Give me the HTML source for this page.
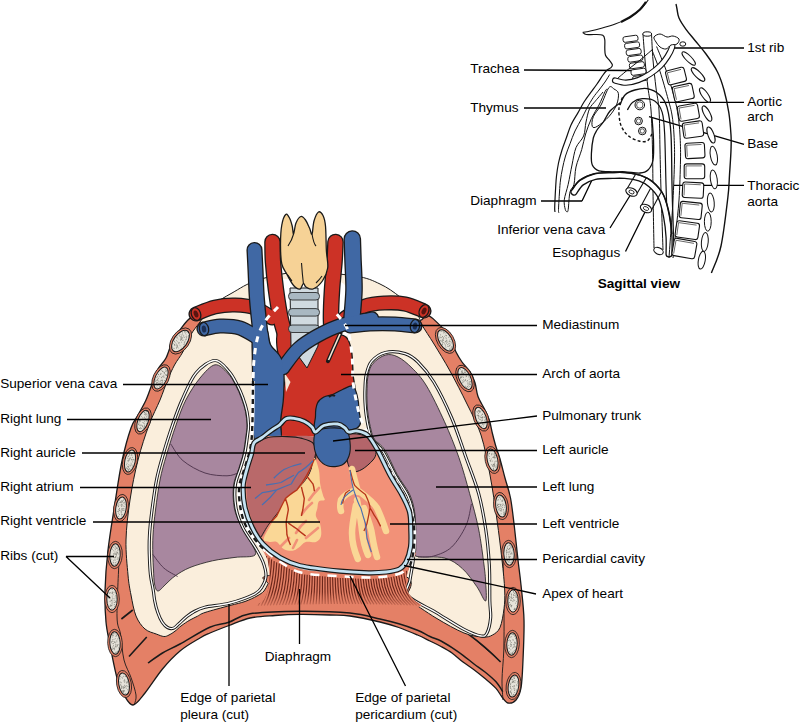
<!DOCTYPE html>
<html><head><meta charset="utf-8"><style>
html,body{margin:0;padding:0;background:#fff;width:800px;height:725px;overflow:hidden}
svg{display:block}
</style></head><body>
<svg width="800" height="725" viewBox="0 0 800 725" stroke-linejoin="round">
<path d="M204.0,318.0 C198.3,315.7 196.8,315.5 194.0,316.0 C191.2,316.5 189.3,318.7 187.0,321.0 C184.7,323.3 182.4,326.7 180.0,330.0 C177.6,333.3 174.8,336.3 172.5,341.0 C170.2,345.7 168.4,353.3 166.0,358.0 C163.6,362.7 160.3,364.8 158.0,369.0 C155.7,373.2 154.4,377.8 152.4,383.0 C150.4,388.2 148.4,394.7 146.0,400.0 C143.6,405.3 140.5,410.3 138.0,415.0 C135.5,419.7 133.7,420.3 131.0,428.0 C128.3,435.7 124.7,448.5 122.0,461.0 C119.3,473.5 117.3,488.2 115.0,503.0 C112.7,517.8 109.7,535.3 108.0,550.0 C106.3,564.7 105.3,579.0 105.0,591.0 C104.7,603.0 105.2,613.0 106.0,622.0 C106.8,631.0 108.2,635.7 110.0,645.0 C111.8,654.3 114.7,669.7 117.0,678.0 C119.3,686.3 121.3,690.5 124.0,695.0 C126.7,699.5 129.5,705.3 133.0,705.0 C136.5,704.7 140.1,699.0 145.0,693.0 C149.9,687.0 156.7,676.0 162.5,669.0 C168.3,662.0 173.8,656.2 180.0,651.0 C186.2,645.8 195.0,641.0 200.0,638.0 C205.0,635.0 205.2,635.1 210.0,633.0 C214.8,630.9 222.3,628.0 229.0,625.5 C235.7,623.0 242.3,619.7 250.0,618.0 C257.7,616.3 266.7,616.1 275.0,615.5 C283.3,614.9 290.8,614.5 300.0,614.4 C309.2,614.3 321.7,614.7 330.0,615.0 C338.3,615.3 341.7,614.8 350.0,616.0 C358.3,617.2 371.9,620.1 380.0,622.0 C388.1,623.9 392.5,625.3 398.8,627.5 C405.0,629.7 412.3,632.8 417.5,635.0 C422.7,637.2 426.1,639.1 430.0,641.0 C433.9,642.9 437.3,644.5 441.0,646.5 C444.7,648.5 448.3,650.4 452.0,653.0 C455.7,655.6 459.3,659.2 463.0,662.0 C466.7,664.8 470.3,667.0 474.0,669.7 C477.7,672.5 481.3,675.4 485.0,678.5 C488.7,681.6 493.2,685.3 496.0,688.4 C498.8,691.5 500.0,694.6 502.0,697.0 C504.0,699.4 505.7,702.5 508.0,703.0 C510.3,703.5 513.8,702.5 516.0,700.0 C518.2,697.5 519.8,694.7 521.0,688.0 C522.2,681.3 522.5,671.3 523.0,660.0 C523.5,648.7 524.3,632.5 524.0,620.0 C523.7,607.5 522.0,595.0 521.0,585.0 C520.0,575.0 519.1,569.7 518.0,560.0 C516.9,550.3 515.6,537.3 514.4,527.0 C513.1,516.7 512.1,506.2 510.5,498.0 C508.9,489.8 506.8,484.7 505.0,478.0 C503.2,471.3 501.3,463.4 499.7,458.0 C498.1,452.6 496.8,449.7 495.6,445.5 C494.4,441.3 493.3,437.1 492.3,433.0 C491.3,428.9 490.7,424.5 489.5,420.7 C488.3,416.9 486.9,414.0 485.0,410.0 C483.1,406.0 479.7,401.1 478.0,396.5 C476.3,391.9 476.3,386.8 475.0,382.7 C473.7,378.6 472.2,375.1 470.0,371.7 C467.8,368.2 464.3,365.3 462.0,362.0 C459.7,358.7 458.2,356.3 456.0,352.0 C453.8,347.7 452.0,340.8 449.0,336.0 C446.0,331.2 441.7,326.9 438.0,323.4 C434.3,319.9 430.3,315.4 427.0,315.2 C423.7,315.0 425.8,318.7 418.0,322.0 C410.2,325.3 399.7,332.0 380.0,335.0 C360.3,338.0 325.3,340.8 300.0,340.0 C274.7,339.2 244.0,333.7 228.0,330.0 C212.0,326.3 209.7,320.3 204.0,318.0Z" fill="#E48066" stroke="#1a1a1a" stroke-width="1.3"/><path d="M148.0,663.0 C150.4,661.3 157.2,656.2 162.5,653.0 C167.8,649.8 172.1,648.3 180.0,644.0 C187.9,639.7 201.7,630.9 209.8,627.3 C217.9,623.7 222.1,624.6 228.8,622.3 C235.5,620.0 238.1,615.6 250.0,613.8 C261.9,611.9 283.3,611.4 300.0,611.2 C316.7,611.1 336.7,611.7 350.0,613.0 C363.3,614.3 371.9,617.2 380.0,619.0 C388.1,620.8 392.5,621.9 398.8,623.8 C405.0,625.6 412.3,628.2 417.5,630.3 C422.7,632.4 426.1,634.7 430.0,636.5 C433.9,638.3 437.3,639.1 441.0,641.0 C444.7,642.9 448.3,645.2 452.0,647.6 C455.7,650.0 459.3,652.6 463.0,655.3 C466.7,658.0 470.3,661.2 474.0,664.0 C477.7,666.8 481.3,669.0 485.0,672.0 C488.7,675.0 493.0,678.5 496.0,681.8 C499.0,685.1 501.7,690.1 502.8,691.7" fill="none" stroke="#1a1a1a" stroke-width="1.5"/><path d="M119.0,560.0 C118.7,569.3 116.8,603.7 117.0,616.0 C117.2,628.3 119.3,626.7 120.5,634.0 C121.7,641.3 122.2,652.8 124.0,660.0 C125.8,667.2 129.0,671.7 131.0,677.5 C133.0,683.3 135.4,690.6 136.0,695.0 C136.6,699.4 134.8,702.5 134.5,704.0" fill="none" stroke="#1a1a1a" stroke-width="0.9"/><path d="M503.0,560.0 C503.2,568.3 503.9,595.0 504.0,610.0 C504.1,625.0 504.1,638.3 503.8,650.0 C503.4,661.7 502.1,671.7 502.0,680.0 C501.9,688.3 502.8,696.7 503.0,700.0" fill="none" stroke="#1a1a1a" stroke-width="0.9"/><path d="M121.4,619 L132.75,610 M129,656.5 L146.75,637 M468.6,634.3 Q485,646 500.6,662" stroke="#1a1a1a" stroke-width="1.6"/><path d="M200.0,322.0 C196.5,326.8 193.9,329.5 191.0,334.5 C188.1,339.5 185.6,346.9 182.8,352.0 C180.1,357.1 177.0,360.3 174.5,365.0 C172.0,369.7 170.0,374.2 167.6,380.0 C165.2,385.8 163.1,392.5 160.0,400.0 C156.9,407.5 152.7,415.0 149.0,425.0 C145.3,435.0 141.2,447.5 138.0,460.0 C134.8,472.5 132.0,486.7 130.0,500.0 C128.0,513.3 126.3,527.5 126.0,540.0 C125.7,552.5 127.2,565.8 128.0,575.0 C128.8,584.2 129.7,588.2 131.0,595.0 C132.3,601.8 133.7,610.3 136.0,616.0 C138.3,621.7 141.6,626.0 145.0,629.0 C148.4,632.0 153.1,632.8 156.2,634.0 C159.4,635.2 161.6,636.3 163.8,636.5 C165.9,636.7 167.1,635.9 169.0,635.0 C170.9,634.1 173.0,632.8 175.0,631.2 C177.0,629.8 178.5,627.9 181.0,626.0 C183.5,624.1 187.2,621.6 190.0,620.0 C192.8,618.4 195.0,617.5 197.5,616.2 C200.0,615.0 199.6,614.3 205.0,612.5 C210.4,610.7 223.3,607.3 230.0,605.5 C236.7,603.7 240.5,603.1 245.0,601.5 C249.5,599.9 253.8,597.8 257.0,596.0 C260.2,594.2 262.2,593.0 264.0,591.0 C265.8,589.0 266.3,586.7 268.0,584.0 C269.7,581.3 252.0,576.5 274.0,575.0 C296.0,573.5 378.0,571.2 400.0,575.0 C422.0,578.8 404.7,593.9 406.0,598.0 C407.3,602.1 403.0,596.1 408.0,599.4 C413.0,602.7 426.7,612.4 436.0,618.0 C445.3,623.6 456.2,629.8 464.0,633.0 C471.8,636.2 478.2,636.7 483.0,637.0 C487.8,637.3 489.7,636.6 492.5,635.0 C495.3,633.4 498.1,631.9 500.0,627.5 C501.9,623.1 503.2,615.0 504.0,608.8 C504.8,602.5 505.0,598.1 504.7,590.0 C504.4,581.9 503.3,571.7 502.0,560.0 C500.7,548.3 499.0,534.2 497.0,520.0 C495.0,505.8 492.7,489.2 490.0,475.0 C487.3,460.8 484.8,446.8 481.0,435.0 C477.2,423.2 472.2,414.7 467.0,404.0 C461.8,393.3 455.5,381.0 450.0,371.0 C444.5,361.0 438.7,351.7 434.0,344.0 C429.3,336.3 424.8,330.0 422.0,325.0 C419.2,320.0 420.7,318.7 417.0,314.0 C413.3,309.3 406.2,302.0 400.0,297.0 C393.8,292.0 387.5,287.5 380.0,284.0 C372.5,280.5 368.3,278.0 355.0,276.0 C341.7,274.0 316.2,271.3 300.0,272.0 C283.8,272.7 269.3,276.5 258.0,280.0 C246.7,283.5 239.7,288.7 232.0,293.0 C224.3,297.3 217.3,301.2 212.0,306.0 C206.7,310.8 203.5,317.2 200.0,322.0Z" fill="#FAEEDC" stroke="#1a1a1a" stroke-width="1"/><path d="M215.0,364.8 C219.6,364.0 224.1,369.6 227.6,373.0 C231.1,376.4 233.5,381.3 235.8,385.5 C238.1,389.7 239.7,393.6 241.3,398.0 C242.9,402.4 244.6,407.2 245.5,411.7 C246.4,416.2 246.9,421.0 247.0,425.0 C247.1,429.0 246.6,430.7 246.0,435.5 C245.4,440.3 244.4,448.2 243.2,453.7 C242.0,459.2 240.4,463.2 238.8,468.6 C237.2,474.0 234.2,479.4 233.5,486.0 C232.8,492.6 233.1,501.3 234.3,508.0 C235.6,514.7 238.4,520.5 241.0,526.0 C243.6,531.5 247.7,536.2 250.0,541.0 C252.3,545.8 257.5,552.3 255.0,555.0 C252.5,557.7 242.1,556.4 235.0,557.4 C227.9,558.4 220.0,559.1 212.5,560.8 C205.0,562.5 196.2,565.0 190.0,567.5 C183.8,570.0 179.0,573.2 175.0,576.0 C171.0,578.8 168.8,581.5 166.0,584.0 C163.2,586.5 159.9,591.0 158.0,591.0 C156.1,591.0 155.2,587.5 154.5,584.0 C153.8,580.5 153.8,575.0 153.5,570.0 C153.2,565.0 152.9,559.8 152.8,554.0 C152.7,548.2 152.6,542.3 153.0,535.0 C153.4,527.7 154.3,519.2 155.5,510.0 C156.7,500.8 158.2,489.2 160.0,480.0 C161.8,470.8 163.8,464.2 166.5,455.0 C169.2,445.8 172.8,434.2 176.0,425.0 C179.2,415.8 181.8,407.8 185.8,400.0 C189.8,392.2 195.1,383.9 200.0,378.0 C204.9,372.1 210.4,365.6 215.0,364.8Z" fill="#A8879F" stroke="#1a1a1a" stroke-width="0.8"/><path d="M170.7,444.0 C172.8,446.8 177.3,455.9 183.0,460.7 C188.7,465.5 197.7,470.5 205.0,473.0 C212.3,475.5 221.5,475.8 227.0,475.8 C232.5,475.8 236.2,473.5 238.0,473.0" fill="none" stroke="#4a3048" stroke-width="0.9"/><path d="M152.8,554.4 C154.6,556.7 159.7,564.3 163.8,568.0 C167.9,571.7 175.3,575.1 177.6,576.5" fill="none" stroke="#4a3048" stroke-width="0.9"/><path d="M385.5,355.0 C381.3,356.1 375.9,360.1 373.0,363.4 C370.1,366.6 369.3,370.4 368.3,374.5 C367.3,378.6 367.2,383.7 367.0,388.3 C366.8,392.9 366.8,397.4 367.0,402.0 C367.2,406.6 367.6,411.4 368.3,416.0 C369.0,420.6 370.0,425.8 371.0,429.7 C372.0,433.6 372.2,435.9 374.5,439.3 C376.8,442.7 381.0,444.1 384.8,450.0 C388.6,455.9 393.1,467.1 397.2,474.5 C401.3,481.9 406.7,488.2 409.6,494.4 C412.5,500.6 413.6,505.9 414.6,511.8 C415.6,517.7 415.6,523.8 415.8,530.0 C416.0,536.2 415.6,544.6 415.8,549.0 C416.0,553.4 412.2,555.0 417.0,556.5 C421.8,558.0 436.9,556.0 444.5,558.0 C452.1,560.0 457.0,563.8 462.4,568.6 C467.8,573.4 472.9,581.2 476.8,586.6 C480.7,592.0 484.2,602.1 485.7,601.0 C487.1,599.9 485.8,586.0 485.5,580.0 C485.2,574.0 485.1,573.5 484.0,565.0 C482.9,556.5 481.0,540.9 478.6,529.0 C476.2,517.1 472.9,505.3 469.6,493.4 C466.3,481.5 463.1,469.4 458.9,457.5 C454.7,445.6 449.9,433.6 444.5,421.7 C439.1,409.8 432.0,394.9 426.6,386.0 C421.2,377.1 416.8,372.8 412.0,368.0 C407.2,363.2 402.4,359.2 398.0,357.0 C393.6,354.8 389.7,353.9 385.5,355.0Z" fill="#A8879F" stroke="#1a1a1a" stroke-width="0.8"/><path d="M471.4,504.0 C470.5,507.6 469.3,518.4 466.0,525.6 C462.7,532.8 457.1,541.9 451.7,547.0 C446.3,552.1 439.4,554.3 433.8,556.0 C428.2,557.7 420.6,556.8 418.0,557.0" fill="none" stroke="#4a3048" stroke-width="0.9"/><path d="M215.0,360.5 C209.5,360.8 201.5,366.4 196.0,373.0 C190.5,379.6 185.9,391.3 182.0,400.0 C178.1,408.7 175.7,415.8 172.5,425.0 C169.3,434.2 165.7,445.8 163.0,455.0 C160.3,464.2 158.3,470.8 156.5,480.0 C154.7,489.2 153.2,500.8 152.0,510.0 C150.8,519.2 149.9,527.7 149.5,535.0 C149.1,542.3 149.1,547.3 149.3,554.0 C149.5,560.7 149.8,569.0 150.5,575.0 C151.2,581.0 152.5,585.6 153.2,590.0 C154.0,594.4 154.0,597.5 154.8,601.2 C155.5,605.0 156.5,609.0 157.8,612.5 C159.0,616.0 160.6,619.8 162.2,622.2 C163.9,624.8 165.6,626.5 167.5,627.5 C169.4,628.5 171.6,628.9 173.5,628.2 C175.4,627.6 176.6,625.6 178.8,623.8 C180.9,621.9 183.8,619.0 186.2,617.0 C188.8,615.0 190.6,613.4 193.8,611.8 C196.9,610.1 199.0,608.7 205.0,607.2 C211.0,605.8 221.7,605.2 230.0,603.0 C238.3,600.8 249.6,596.6 255.0,593.8 C260.4,590.9 260.7,589.0 262.5,586.0 C264.3,583.0 265.9,580.0 266.0,576.0 C266.1,572.0 264.8,566.8 263.0,562.0 C261.2,557.2 258.3,552.7 255.0,547.0 C251.7,541.3 246.2,534.5 243.0,528.0 C239.8,521.5 237.3,515.0 236.0,508.0 C234.7,501.0 234.5,492.6 235.2,486.0 C235.9,479.4 238.7,474.0 240.3,468.6 C241.9,463.2 243.5,459.2 244.7,453.7 C245.9,448.2 246.9,440.3 247.5,435.5 C248.1,430.7 248.6,429.0 248.5,425.0 C248.4,421.0 247.9,416.3 247.0,411.7 C246.1,407.1 244.4,401.9 242.8,397.5 C241.2,393.1 239.6,389.3 237.3,385.0 C235.0,380.7 232.7,375.6 229.0,371.5 C225.3,367.4 220.5,360.2 215.0,360.5Z" fill="none" stroke="#1a1a1a" stroke-width="3.2"/><path d="M215.0,360.5 C209.5,360.8 201.5,366.4 196.0,373.0 C190.5,379.6 185.9,391.3 182.0,400.0 C178.1,408.7 175.7,415.8 172.5,425.0 C169.3,434.2 165.7,445.8 163.0,455.0 C160.3,464.2 158.3,470.8 156.5,480.0 C154.7,489.2 153.2,500.8 152.0,510.0 C150.8,519.2 149.9,527.7 149.5,535.0 C149.1,542.3 149.1,547.3 149.3,554.0 C149.5,560.7 149.8,569.0 150.5,575.0 C151.2,581.0 152.5,585.6 153.2,590.0 C154.0,594.4 154.0,597.5 154.8,601.2 C155.5,605.0 156.5,609.0 157.8,612.5 C159.0,616.0 160.6,619.8 162.2,622.2 C163.9,624.8 165.6,626.5 167.5,627.5 C169.4,628.5 171.6,628.9 173.5,628.2 C175.4,627.6 176.6,625.6 178.8,623.8 C180.9,621.9 183.8,619.0 186.2,617.0 C188.8,615.0 190.6,613.4 193.8,611.8 C196.9,610.1 199.0,608.7 205.0,607.2 C211.0,605.8 221.7,605.2 230.0,603.0 C238.3,600.8 249.6,596.6 255.0,593.8 C260.4,590.9 260.7,589.0 262.5,586.0 C264.3,583.0 265.9,580.0 266.0,576.0 C266.1,572.0 264.8,566.8 263.0,562.0 C261.2,557.2 258.3,552.7 255.0,547.0 C251.7,541.3 246.2,534.5 243.0,528.0 C239.8,521.5 237.3,515.0 236.0,508.0 C234.7,501.0 234.5,492.6 235.2,486.0 C235.9,479.4 238.7,474.0 240.3,468.6 C241.9,463.2 243.5,459.2 244.7,453.7 C245.9,448.2 246.9,440.3 247.5,435.5 C248.1,430.7 248.6,429.0 248.5,425.0 C248.4,421.0 247.9,416.3 247.0,411.7 C246.1,407.1 244.4,401.9 242.8,397.5 C241.2,393.1 239.6,389.3 237.3,385.0 C235.0,380.7 232.7,375.6 229.0,371.5 C225.3,367.4 220.5,360.2 215.0,360.5Z" fill="none" stroke="#fff" stroke-width="1.3"/><path d="M385.5,352.5 C379.9,353.8 374.7,357.8 371.5,361.5 C368.3,365.2 367.4,370.0 366.3,374.5 C365.2,379.0 365.2,383.7 365.0,388.3 C364.8,392.9 364.8,397.4 365.0,402.0 C365.2,406.6 365.6,411.3 366.3,416.0 C367.0,420.7 368.0,426.0 369.0,430.0 C370.0,434.0 370.2,436.4 372.5,440.0 C374.8,443.6 379.2,445.6 383.0,451.5 C386.8,457.4 391.4,468.2 395.5,475.5 C399.6,482.8 404.9,489.4 407.8,495.5 C410.7,501.6 411.8,506.2 412.8,512.0 C413.8,517.8 413.8,523.8 414.0,530.0 C414.2,536.2 414.2,543.7 414.0,549.0 C413.8,554.3 413.7,556.8 413.0,562.0 C412.3,567.2 410.8,574.4 410.0,580.0 C409.2,585.6 403.7,590.2 408.0,595.6 C412.3,601.0 426.7,606.9 436.0,612.5 C445.3,618.1 456.5,625.5 464.0,629.4 C471.5,633.3 477.2,635.4 481.0,636.0 C484.8,636.6 485.4,636.0 487.0,633.0 C488.6,630.0 490.1,623.3 490.6,618.0 C491.1,612.7 490.0,609.8 489.8,601.0 C489.6,592.2 490.0,577.0 489.3,565.0 C488.6,553.0 487.5,540.9 485.7,529.0 C483.9,517.1 481.9,505.3 478.6,493.4 C475.3,481.5 470.5,470.1 466.0,457.5 C461.5,444.9 457.1,430.6 451.7,418.0 C446.3,405.4 439.4,391.3 433.8,382.0 C428.2,372.7 422.8,366.7 418.0,362.0 C413.2,357.3 410.4,355.2 405.0,353.6 C399.6,352.0 391.1,351.2 385.5,352.5Z" fill="none" stroke="#1a1a1a" stroke-width="3.2"/><path d="M385.5,352.5 C379.9,353.8 374.7,357.8 371.5,361.5 C368.3,365.2 367.4,370.0 366.3,374.5 C365.2,379.0 365.2,383.7 365.0,388.3 C364.8,392.9 364.8,397.4 365.0,402.0 C365.2,406.6 365.6,411.3 366.3,416.0 C367.0,420.7 368.0,426.0 369.0,430.0 C370.0,434.0 370.2,436.4 372.5,440.0 C374.8,443.6 379.2,445.6 383.0,451.5 C386.8,457.4 391.4,468.2 395.5,475.5 C399.6,482.8 404.9,489.4 407.8,495.5 C410.7,501.6 411.8,506.2 412.8,512.0 C413.8,517.8 413.8,523.8 414.0,530.0 C414.2,536.2 414.2,543.7 414.0,549.0 C413.8,554.3 413.7,556.8 413.0,562.0 C412.3,567.2 410.8,574.4 410.0,580.0 C409.2,585.6 403.7,590.2 408.0,595.6 C412.3,601.0 426.7,606.9 436.0,612.5 C445.3,618.1 456.5,625.5 464.0,629.4 C471.5,633.3 477.2,635.4 481.0,636.0 C484.8,636.6 485.4,636.0 487.0,633.0 C488.6,630.0 490.1,623.3 490.6,618.0 C491.1,612.7 490.0,609.8 489.8,601.0 C489.6,592.2 490.0,577.0 489.3,565.0 C488.6,553.0 487.5,540.9 485.7,529.0 C483.9,517.1 481.9,505.3 478.6,493.4 C475.3,481.5 470.5,470.1 466.0,457.5 C461.5,444.9 457.1,430.6 451.7,418.0 C446.3,405.4 439.4,391.3 433.8,382.0 C428.2,372.7 422.8,366.7 418.0,362.0 C413.2,357.3 410.4,355.2 405.0,353.6 C399.6,352.0 391.1,351.2 385.5,352.5Z" fill="none" stroke="#fff" stroke-width="1.3"/><clipPath id="stc"><path d="M262.0,548.0 C261.8,545.3 263.8,543.7 266.0,544.0 C268.2,544.3 269.3,547.0 275.0,550.0 C280.7,553.0 289.2,559.2 300.0,562.0 C310.8,564.8 323.3,566.5 340.0,567.0 C356.7,567.5 388.3,566.7 400.0,565.0 C411.7,563.3 407.3,559.0 410.0,557.0 C412.7,555.0 416.2,551.2 416.0,553.0 C415.8,554.8 410.7,563.2 409.0,568.0 C407.3,572.8 406.2,578.0 406.0,582.0 C405.8,586.0 406.7,589.0 408.0,592.0 C409.3,595.0 411.8,597.7 414.0,600.0 C416.2,602.3 423.3,604.8 421.0,606.0 C418.7,607.2 415.2,607.0 400.0,607.0 C384.8,607.0 348.3,606.2 330.0,606.0 C311.7,605.8 302.0,606.0 290.0,606.0 C278.0,606.0 262.3,607.0 258.0,606.0 C253.7,605.0 262.2,603.0 264.0,600.0 C265.8,597.0 267.6,592.2 268.5,588.0 C269.4,583.8 269.7,579.7 269.5,575.0 C269.3,570.3 268.8,564.5 267.5,560.0 C266.2,555.5 262.2,550.7 262.0,548.0Z"/></clipPath><path d="M262.0,548.0 C261.8,545.3 263.8,543.7 266.0,544.0 C268.2,544.3 269.3,547.0 275.0,550.0 C280.7,553.0 289.2,559.2 300.0,562.0 C310.8,564.8 323.3,566.5 340.0,567.0 C356.7,567.5 388.3,566.7 400.0,565.0 C411.7,563.3 407.3,559.0 410.0,557.0 C412.7,555.0 416.2,551.2 416.0,553.0 C415.8,554.8 410.7,563.2 409.0,568.0 C407.3,572.8 406.2,578.0 406.0,582.0 C405.8,586.0 406.7,589.0 408.0,592.0 C409.3,595.0 411.8,597.7 414.0,600.0 C416.2,602.3 423.3,604.8 421.0,606.0 C418.7,607.2 415.2,607.0 400.0,607.0 C384.8,607.0 348.3,606.2 330.0,606.0 C311.7,605.8 302.0,606.0 290.0,606.0 C278.0,606.0 262.3,607.0 258.0,606.0 C253.7,605.0 262.2,603.0 264.0,600.0 C265.8,597.0 267.6,592.2 268.5,588.0 C269.4,583.8 269.7,579.7 269.5,575.0 C269.3,570.3 268.8,564.5 267.5,560.0 C266.2,555.5 262.2,550.7 262.0,548.0Z" fill="#E48066"/><path d="M264.0,554.3 Q262.2,587.9 252.0,606.0 M266.5,556.0 Q264.8,588.4 255.1,605.9 M269.1,557.7 Q267.4,589.0 258.1,605.8 M271.6,559.4 Q270.1,589.5 261.2,605.7 M274.2,561.1 Q272.7,590.0 264.2,605.6 M276.7,562.4 Q275.3,590.4 267.3,605.5 M279.3,563.6 Q277.9,590.8 270.3,605.4 M281.8,564.9 Q280.5,591.1 273.4,605.3 M284.3,566.2 Q283.1,591.5 276.4,605.2 M286.9,567.4 Q285.8,591.9 279.5,605.1 M289.4,568.7 Q288.4,592.3 282.5,605.0 M292.0,570.0 Q291.0,592.7 285.6,604.9 M294.5,571.3 Q293.6,593.1 288.6,604.8 M297.1,572.5 Q296.2,593.5 291.7,604.7 M299.6,573.8 Q298.9,593.8 294.7,604.6 M302.1,574.2 Q301.5,593.9 297.8,604.6 M304.7,574.5 Q304.1,594.0 300.8,604.5 M307.2,574.7 Q306.7,594.0 303.9,604.4 M309.8,575.0 Q309.3,594.1 306.9,604.4 M312.3,575.2 Q312.0,594.1 310.0,604.3 M314.8,575.5 Q314.6,594.2 313.0,604.3 M317.4,575.7 Q317.2,594.2 316.1,604.2 M319.9,576.0 Q319.8,594.3 319.1,604.2 M322.5,576.2 Q322.4,594.4 322.2,604.1 M325.0,576.5 Q325.0,594.4 325.2,604.1 M327.6,576.8 Q327.7,594.5 328.3,604.1 M330.1,577.0 Q330.3,594.6 331.3,604.0 M332.6,577.3 Q332.9,594.7 334.4,604.0 M335.2,577.5 Q335.5,594.7 337.4,604.0 M337.7,577.8 Q338.1,594.8 340.5,604.0 M340.3,578.0 Q340.8,594.9 343.5,604.0 M342.8,578.1 Q343.4,594.9 346.6,604.0 M345.4,578.2 Q346.0,595.0 349.6,604.0 M347.9,578.3 Q348.6,595.0 352.7,604.0 M350.4,578.4 Q351.2,595.1 355.7,604.1 M353.0,578.4 Q353.9,595.1 358.8,604.1 M355.5,578.5 Q356.5,595.2 361.8,604.1 M358.1,578.6 Q359.1,595.2 364.9,604.2 M360.6,578.7 Q361.7,595.3 367.9,604.2 M363.2,578.8 Q364.3,595.3 371.0,604.3 M365.7,578.9 Q366.9,595.4 374.0,604.3 M368.2,579.0 Q369.6,595.5 377.1,604.4 M370.8,578.9 Q372.2,595.5 380.1,604.4 M373.3,578.7 Q374.8,595.5 383.2,604.5 M375.9,578.6 Q377.4,595.5 386.2,604.6 M378.4,578.4 Q380.0,595.5 389.3,604.6 M380.9,578.3 Q382.7,595.5 392.3,604.7 M383.5,578.1 Q385.3,595.5 395.4,604.8 M386.0,578.0 Q387.9,595.5 398.4,604.9 M388.6,577.5 Q390.5,595.4 401.5,605.0 M391.1,577.0 Q393.1,595.2 404.5,605.1 M393.7,576.5 Q395.8,595.1 407.6,605.2 M396.2,576.0 Q398.4,595.0 410.6,605.3 M398.7,575.5 Q401.0,594.9 413.7,605.4 M401.3,574.8 Q403.6,594.7 416.7,605.5 M403.8,572.8 Q406.2,594.1 419.8,605.6 M406.4,570.8 Q408.8,593.5 422.8,605.7 M408.9,568.8 Q411.5,592.9 425.9,605.8 M411.5,564.0 Q414.1,591.2 428.9,605.9 M414.0,557.0 Q416.7,588.9 432.0,606.0" stroke="#5e1c12" stroke-width="1.15" fill="none" opacity="0.9" clip-path="url(#stc)"/><linearGradient id="sfade" x1="0" y1="0" x2="0" y2="1"><stop offset="0" stop-color="#E48066" stop-opacity="0"/><stop offset="1" stop-color="#E48066" stop-opacity="0.9"/></linearGradient><rect x="250" y="592" width="180" height="16" fill="url(#sfade)" clip-path="url(#stc)"/><path d="M262.0,285.0 C267.3,274.2 286.2,280.0 300.0,280.0 C313.8,280.0 336.7,276.7 345.0,285.0 C353.3,293.3 352.5,320.0 350.0,330.0 C347.5,340.0 338.3,338.3 330.0,345.0 C321.7,351.7 307.7,365.5 300.0,370.0 C292.3,374.5 289.3,376.2 284.0,372.0 C278.7,367.8 271.7,359.5 268.0,345.0 C264.3,330.5 256.7,295.8 262.0,285.0Z" fill="#ffffff"/><path d="M196.0,314.0 C199.2,312.8 208.5,308.5 215.0,307.0 C221.5,305.5 228.3,304.8 235.0,305.0 C241.7,305.2 248.8,305.8 255.0,308.0 C261.2,310.2 269.2,316.3 272.0,318.0" fill="none" stroke="#1a1a1a" stroke-width="15.1" stroke-linecap="round"/><path d="M424.0,311.0 C420.8,309.8 411.5,305.3 405.0,304.0 C398.5,302.7 391.7,302.7 385.0,303.0 C378.3,303.3 371.7,303.5 365.0,306.0 C358.3,308.5 348.3,316.0 345.0,318.0" fill="none" stroke="#1a1a1a" stroke-width="15.1" stroke-linecap="round"/><path d="M272.5,242.0 C272.6,245.3 272.4,254.0 273.0,262.0 C273.6,270.0 274.7,280.3 276.0,290.0 C277.3,299.7 278.7,310.0 281.0,320.0 C283.3,330.0 288.5,345.0 290.0,350.0" fill="none" stroke="#1a1a1a" stroke-width="16.6" stroke-linecap="round"/><path d="M335.5,242.0 C335.3,245.3 335.1,254.0 334.5,262.0 C333.9,270.0 332.6,280.3 332.0,290.0 C331.4,299.7 330.8,310.8 331.0,320.0 C331.2,329.2 332.7,340.8 333.0,345.0" fill="none" stroke="#1a1a1a" stroke-width="16.6" stroke-linecap="round"/><path d="M280.0,330.0 C283.7,327.0 293.7,332.0 300.0,332.0 C306.3,332.0 312.3,329.7 318.0,330.0 C323.7,330.3 329.3,332.7 334.0,334.0 C338.7,335.3 343.2,335.0 346.0,338.0 C348.8,341.0 349.9,345.8 351.0,352.0 C352.1,358.2 352.0,367.8 352.5,375.0 C353.0,382.2 356.1,390.8 354.0,395.0 C351.9,399.2 345.3,398.3 340.0,400.0 C334.7,401.7 325.7,398.8 322.0,405.0 C318.3,411.2 321.7,430.5 318.0,437.0 C314.3,443.5 305.8,443.5 300.0,444.0 C294.2,444.5 286.0,447.3 283.0,440.0 C280.0,432.7 281.5,410.8 282.0,400.0 C282.5,389.2 286.7,383.3 286.0,375.0 C285.3,366.7 279.0,357.5 278.0,350.0 C277.0,342.5 276.3,333.0 280.0,330.0Z" fill="#1a1a1a" stroke="#1a1a1a" stroke-width="2.6"/><path d="M196.0,314.0 C199.2,312.8 208.5,308.5 215.0,307.0 C221.5,305.5 228.3,304.8 235.0,305.0 C241.7,305.2 248.8,305.8 255.0,308.0 C261.2,310.2 269.2,316.3 272.0,318.0" fill="none" stroke="#CC3226" stroke-width="12.5" stroke-linecap="round"/><path d="M424.0,311.0 C420.8,309.8 411.5,305.3 405.0,304.0 C398.5,302.7 391.7,302.7 385.0,303.0 C378.3,303.3 371.7,303.5 365.0,306.0 C358.3,308.5 348.3,316.0 345.0,318.0" fill="none" stroke="#CC3226" stroke-width="12.5" stroke-linecap="round"/><path d="M272.5,242.0 C272.6,245.3 272.4,254.0 273.0,262.0 C273.6,270.0 274.7,280.3 276.0,290.0 C277.3,299.7 278.7,310.0 281.0,320.0 C283.3,330.0 288.5,345.0 290.0,350.0" fill="none" stroke="#CC3226" stroke-width="14" stroke-linecap="round"/><path d="M335.5,242.0 C335.3,245.3 335.1,254.0 334.5,262.0 C333.9,270.0 332.6,280.3 332.0,290.0 C331.4,299.7 330.8,310.8 331.0,320.0 C331.2,329.2 332.7,340.8 333.0,345.0" fill="none" stroke="#CC3226" stroke-width="14" stroke-linecap="round"/><path d="M280.0,330.0 C283.7,327.0 293.7,332.0 300.0,332.0 C306.3,332.0 312.3,329.7 318.0,330.0 C323.7,330.3 329.3,332.7 334.0,334.0 C338.7,335.3 343.2,335.0 346.0,338.0 C348.8,341.0 349.9,345.8 351.0,352.0 C352.1,358.2 352.0,367.8 352.5,375.0 C353.0,382.2 356.1,390.8 354.0,395.0 C351.9,399.2 345.3,398.3 340.0,400.0 C334.7,401.7 325.7,398.8 322.0,405.0 C318.3,411.2 321.7,430.5 318.0,437.0 C314.3,443.5 305.8,443.5 300.0,444.0 C294.2,444.5 286.0,447.3 283.0,440.0 C280.0,432.7 281.5,410.8 282.0,400.0 C282.5,389.2 286.7,383.3 286.0,375.0 C285.3,366.7 279.0,357.5 278.0,350.0 C277.0,342.5 276.3,333.0 280.0,330.0Z" fill="#CC3226"/><path d="M340.5,333 L328,361" stroke="#1a1a1a" stroke-width="4.2" stroke-linecap="round"/><path d="M340,334 L328.5,360" stroke="#F5E8D8" stroke-width="1.6"/><path d="M290,288 L318,288 L318,346 L307,368 L291,346 Z" fill="#D0DAE0" stroke="#1a1a1a" stroke-width="1"/><rect x="288.5" y="292.5" width="31" height="7.5" rx="3.5" fill="#A9B8C2" stroke="#1a1a1a" stroke-width="0.8"/><rect x="288.5" y="308.6" width="31" height="7.5" rx="3.5" fill="#A9B8C2" stroke="#1a1a1a" stroke-width="0.8"/><rect x="288.5" y="325" width="31" height="7.5" rx="3.5" fill="#A9B8C2" stroke="#1a1a1a" stroke-width="0.8"/><path d="M284.5,373 L290.5,382 L286,392 Z" fill="#F5E8D8"/><path d="M285.7,214.5 C287.0,213.3 288.4,216.1 289.5,218.0 C290.6,219.9 291.5,223.3 292.2,226.0 C292.9,228.7 293.0,234.5 293.6,234.0 C294.2,233.5 294.8,225.9 296.0,223.0 C297.2,220.1 299.2,217.0 300.8,216.5 C302.4,216.0 304.1,218.1 305.5,220.0 C306.9,221.9 308.4,225.7 309.5,228.0 C310.6,230.3 311.2,235.2 312.0,234.0 C312.8,232.8 312.9,224.7 314.0,221.0 C315.1,217.3 317.0,212.9 318.5,212.0 C320.0,211.1 321.8,213.2 323.0,215.5 C324.2,217.8 324.9,220.1 325.5,226.0 C326.1,231.9 326.0,244.0 326.4,251.0 C326.8,258.0 328.4,263.0 327.7,268.0 C327.0,273.0 324.8,277.5 322.4,281.0 C319.9,284.5 315.7,288.0 313.0,289.0 C310.3,290.0 307.6,287.9 306.0,287.0 C304.4,286.1 304.4,283.2 303.4,283.5 C302.4,283.8 301.6,288.7 300.0,289.0 C298.4,289.3 295.8,287.9 293.6,285.5 C291.4,283.1 289.0,278.1 287.0,274.5 C285.0,270.9 282.9,269.0 281.8,264.0 C280.7,259.0 280.5,250.8 280.5,244.3 C280.5,237.8 280.9,230.0 281.8,225.0 C282.7,220.0 284.4,215.7 285.7,214.5Z" fill="#F6D296" stroke="#1a1a1a" stroke-width="1.3"/><path d="M293.6,234 C292,240 290,243 288,246 M312,234 C313,240 314,244 316,246 M303.4,283.5 C302.5,276 302,270 301.5,263 M287,274.5 C289,276 290,279 292,281 M322,276 C320,279 318,281 316,283" stroke="#1a1a1a" stroke-width="1.1" fill="none"/><path d="M254.5,250.0 C254.7,253.3 255.1,261.7 255.5,270.0 C255.9,278.3 256.2,290.0 257.0,300.0 C257.8,310.0 259.2,322.5 260.0,330.0 C260.8,337.5 261.7,342.5 262.0,345.0" fill="none" stroke="#1a1a1a" stroke-width="16.1" stroke-linecap="round"/><path d="M352.3,239.0 C352.4,242.5 352.7,251.5 353.0,260.0 C353.3,268.5 354.2,280.3 354.0,290.0 C353.8,299.7 352.3,313.3 352.0,318.0" fill="none" stroke="#1a1a1a" stroke-width="17.6" stroke-linecap="round"/><path d="M204.0,329.0 C206.7,328.5 214.0,326.2 220.0,326.0 C226.0,325.8 233.7,326.0 240.0,328.0 C246.3,330.0 255.0,336.3 258.0,338.0" fill="none" stroke="#1a1a1a" stroke-width="15.1" stroke-linecap="round"/><path d="M415.0,326.0 C411.7,325.7 402.5,324.3 395.0,324.0 C387.5,323.7 377.5,323.7 370.0,324.0 C362.5,324.3 353.3,325.7 350.0,326.0" fill="none" stroke="#1a1a1a" stroke-width="15.1" stroke-linecap="round"/><path d="M372.0,318.5 C366.7,319.7 349.2,322.6 340.0,325.5 C330.8,328.4 324.0,332.1 317.0,336.0 C310.0,339.9 303.7,343.7 298.0,349.0 C292.3,354.3 285.5,364.8 283.0,368.0" fill="none" stroke="#1a1a1a" stroke-width="14.6" stroke-linecap="round"/><path d="M254.0,330.0 C256.2,325.0 263.3,327.5 266.0,330.0 C268.7,332.5 267.3,339.7 270.0,345.0 C272.7,350.3 279.8,353.7 282.0,362.0 C284.2,370.3 283.3,385.3 283.0,395.0 C282.7,404.7 280.7,412.2 280.0,420.0 C279.3,427.8 283.0,438.3 279.0,442.0 C275.0,445.7 260.2,449.0 256.0,442.0 C251.8,435.0 254.5,413.7 254.0,400.0 C253.5,386.3 253.0,371.7 253.0,360.0 C253.0,348.3 251.8,335.0 254.0,330.0Z" fill="#1a1a1a" stroke="#1a1a1a" stroke-width="2.6"/><path d="M254.5,250.0 C254.7,253.3 255.1,261.7 255.5,270.0 C255.9,278.3 256.2,290.0 257.0,300.0 C257.8,310.0 259.2,322.5 260.0,330.0 C260.8,337.5 261.7,342.5 262.0,345.0" fill="none" stroke="#4068A4" stroke-width="13.5" stroke-linecap="round"/><path d="M352.3,239.0 C352.4,242.5 352.7,251.5 353.0,260.0 C353.3,268.5 354.2,280.3 354.0,290.0 C353.8,299.7 352.3,313.3 352.0,318.0" fill="none" stroke="#4068A4" stroke-width="15" stroke-linecap="round"/><path d="M204.0,329.0 C206.7,328.5 214.0,326.2 220.0,326.0 C226.0,325.8 233.7,326.0 240.0,328.0 C246.3,330.0 255.0,336.3 258.0,338.0" fill="none" stroke="#4068A4" stroke-width="12.5" stroke-linecap="round"/><path d="M415.0,326.0 C411.7,325.7 402.5,324.3 395.0,324.0 C387.5,323.7 377.5,323.7 370.0,324.0 C362.5,324.3 353.3,325.7 350.0,326.0" fill="none" stroke="#4068A4" stroke-width="12.5" stroke-linecap="round"/><path d="M372.0,318.5 C366.7,319.7 349.2,322.6 340.0,325.5 C330.8,328.4 324.0,332.1 317.0,336.0 C310.0,339.9 303.7,343.7 298.0,349.0 C292.3,354.3 285.5,364.8 283.0,368.0" fill="none" stroke="#4068A4" stroke-width="12" stroke-linecap="round"/><path d="M254.0,330.0 C256.2,325.0 263.3,327.5 266.0,330.0 C268.7,332.5 267.3,339.7 270.0,345.0 C272.7,350.3 279.8,353.7 282.0,362.0 C284.2,370.3 283.3,385.3 283.0,395.0 C282.7,404.7 280.7,412.2 280.0,420.0 C279.3,427.8 283.0,438.3 279.0,442.0 C275.0,445.7 260.2,449.0 256.0,442.0 C251.8,435.0 254.5,413.7 254.0,400.0 C253.5,386.3 253.0,371.7 253.0,360.0 C253.0,348.3 251.8,335.0 254.0,330.0Z" fill="#4068A4"/><ellipse cx="196" cy="314" rx="4.6" ry="6.6" transform="rotate(-20 196 314)" fill="#CC3226" stroke="#1a1a1a" stroke-width="1.3"/><ellipse cx="196" cy="314" rx="2.2" ry="3.6" transform="rotate(-20 196 314)" fill="#5a1410"/><ellipse cx="204" cy="329" rx="4.6" ry="6.6" transform="rotate(-10 204 329)" fill="#4068A4" stroke="#1a1a1a" stroke-width="1.3"/><ellipse cx="204" cy="329" rx="2.2" ry="3.6" transform="rotate(-10 204 329)" fill="#1c2f55"/><ellipse cx="424" cy="311" rx="4.6" ry="6.6" transform="rotate(25 424 311)" fill="#CC3226" stroke="#1a1a1a" stroke-width="1.3"/><ellipse cx="424" cy="311" rx="2.2" ry="3.6" transform="rotate(25 424 311)" fill="#5a1410"/><ellipse cx="415" cy="326" rx="4.6" ry="6.6" transform="rotate(10 415 326)" fill="#4068A4" stroke="#1a1a1a" stroke-width="1.3"/><ellipse cx="415" cy="326" rx="2.2" ry="3.6" transform="rotate(10 415 326)" fill="#1c2f55"/><path d="M317.5,403.0 C318.9,399.8 321.5,398.4 324.0,397.0 C326.5,395.6 329.6,395.8 332.7,394.5 C335.8,393.2 339.3,390.9 342.6,389.5 C345.9,388.1 350.2,385.1 352.6,386.0 C355.0,386.9 355.9,391.0 357.0,395.0 C358.1,399.0 359.0,404.5 359.0,410.0 C359.0,415.5 363.8,424.3 357.0,428.0 C350.2,431.7 324.9,434.0 318.0,432.0 C311.1,430.0 315.6,420.8 315.5,416.0 C315.4,411.2 316.1,406.2 317.5,403.0Z" fill="#4068A4" stroke="#1a1a1a" stroke-width="1.2"/><path d="M329,397 Q332,394 335,396" stroke="#1a1a1a" stroke-width="2" fill="none"/><clipPath id="cav"><rect x="230" y="446" width="200" height="150"/></clipPath><path d="M252.5,420.0 C234.3,423.6 252.1,434.4 251.5,440.0 C250.9,445.6 250.2,448.9 249.0,453.7 C247.8,458.5 246.1,463.2 244.5,468.6 C242.9,474.0 240.1,479.9 239.3,486.0 C238.6,492.1 239.1,498.7 240.0,505.0 C240.9,511.3 242.2,517.8 245.0,524.0 C247.8,530.2 253.5,538.1 257.0,542.0 C260.5,545.9 263.2,545.5 266.0,547.5 C268.8,549.5 268.3,550.5 274.0,554.0 C279.7,557.5 289.0,565.7 300.0,568.8 C311.0,571.9 328.5,571.8 340.0,572.7 C351.5,573.6 361.3,574.0 369.0,574.0 C376.7,574.0 380.7,573.8 386.0,573.0 C391.3,572.2 397.0,571.2 401.0,569.5 C405.0,567.8 407.9,565.6 410.0,562.5 C412.1,559.4 412.8,556.4 413.5,551.0 C414.2,545.6 414.7,536.5 414.3,530.0 C413.9,523.5 412.6,517.5 411.0,512.0 C409.4,506.5 407.6,502.8 404.7,497.0 C401.8,491.2 397.4,484.1 393.5,477.0 C389.6,469.9 385.2,461.9 381.0,454.7 C376.8,447.5 371.4,440.0 368.0,434.0 C364.6,428.0 379.9,420.9 360.7,418.6 C341.4,416.3 270.7,416.4 252.5,420.0Z" fill="#C4E2F2" clip-path="url(#cav)"/><path d="M278.0,307.0 C276.0,309.2 269.3,315.2 266.0,320.0 C262.7,324.8 260.0,329.3 258.0,336.0 C256.0,342.7 254.8,352.5 254.0,360.0 C253.2,367.5 253.2,377.5 253.0,381.0" fill="none" stroke="#fff" stroke-width="3" stroke-dasharray="6 6"/><path d="M253.0,381.0 C252.9,387.5 252.8,410.2 252.5,420.0 C252.2,429.8 252.1,434.4 251.5,440.0 C250.9,445.6 250.2,448.9 249.0,453.7 C247.8,458.5 246.1,463.2 244.5,468.6 C242.9,474.0 240.1,479.9 239.3,486.0 C238.6,492.1 239.1,498.7 240.0,505.0 C240.9,511.3 242.2,517.8 245.0,524.0 C247.8,530.2 253.5,537.5 257.0,542.0 C260.5,546.5 264.5,549.5 266.0,551.0" fill="none" stroke="#fff" stroke-width="3.6"/><path d="M253.0,381.0 C252.9,387.5 252.8,410.2 252.5,420.0 C252.2,429.8 252.1,434.4 251.5,440.0 C250.9,445.6 250.2,448.9 249.0,453.7 C247.8,458.5 246.1,463.2 244.5,468.6 C242.9,474.0 240.1,479.9 239.3,486.0 C238.6,492.1 239.1,498.7 240.0,505.0 C240.9,511.3 242.2,517.8 245.0,524.0 C247.8,530.2 253.5,537.5 257.0,542.0 C260.5,546.5 264.5,549.5 266.0,551.0" fill="none" stroke="#1a1a1a" stroke-width="2.4" stroke-dasharray="5 4"/><path d="M410.0,566.0 C410.6,563.5 412.8,557.0 413.5,551.0 C414.2,545.0 414.7,536.5 414.3,530.0 C413.9,523.5 412.6,517.5 411.0,512.0 C409.4,506.5 407.6,502.8 404.7,497.0 C401.8,491.2 397.4,484.1 393.5,477.0 C389.6,469.9 385.2,461.9 381.0,454.7 C376.8,447.5 370.2,437.4 368.0,434.0" fill="none" stroke="#fff" stroke-width="3.6"/><path d="M410.0,566.0 C410.6,563.5 412.8,557.0 413.5,551.0 C414.2,545.0 414.7,536.5 414.3,530.0 C413.9,523.5 412.6,517.5 411.0,512.0 C409.4,506.5 407.6,502.8 404.7,497.0 C401.8,491.2 397.4,484.1 393.5,477.0 C389.6,469.9 385.2,461.9 381.0,454.7 C376.8,447.5 370.2,437.4 368.0,434.0" fill="none" stroke="#1a1a1a" stroke-width="2.4" stroke-dasharray="5 4"/><path d="M266.0,551.0 C267.3,552.1 268.3,554.0 274.0,557.5 C279.7,561.0 289.0,569.2 300.0,572.3 C311.0,575.4 328.5,575.3 340.0,576.2 C351.5,577.1 361.3,577.5 369.0,577.5 C376.7,577.5 380.7,577.2 386.0,576.5 C391.3,575.8 397.0,574.8 401.0,573.0 C405.0,571.2 408.5,567.2 410.0,566.0" fill="none" stroke="#fff" stroke-width="2.6" stroke-dasharray="9 8"/><path d="M368.0,434.0 C366.8,431.4 362.6,423.9 360.7,418.6 C358.8,413.3 357.8,408.2 356.5,402.0 C355.2,395.8 353.7,388.3 353.0,381.4 C352.3,374.5 352.9,367.6 352.4,360.7 C351.9,353.8 351.1,345.8 350.0,340.0 C348.9,334.2 348.7,330.8 346.0,326.0 C343.3,321.2 336.0,313.5 334.0,311.0" fill="none" stroke="#fff" stroke-width="3" stroke-dasharray="6 6"/><clipPath id="hb"><rect x="230" y="436" width="200" height="160"/></clipPath><path d="M254.0,443.0 C255.8,440.2 259.1,439.6 262.0,437.5 C264.9,435.4 268.4,432.4 271.4,430.3 C274.3,428.2 277.3,426.7 279.7,424.8 C282.1,422.9 283.6,419.8 286.0,418.7 C288.4,417.6 290.9,417.9 294.0,418.3 C297.1,418.8 301.5,419.9 304.5,421.4 C307.5,422.8 310.2,425.2 312.0,427.0 C313.8,428.8 313.5,432.2 315.5,432.0 C317.5,431.8 320.1,426.8 323.8,425.5 C327.5,424.2 334.1,423.6 337.6,424.0 C341.1,424.4 343.2,426.7 345.0,428.0 C346.8,429.3 346.6,431.5 348.6,432.0 C350.6,432.5 353.9,430.5 357.0,431.0 C360.1,431.5 364.2,432.0 367.5,435.0 C370.8,438.0 373.2,442.3 377.0,449.0 C380.8,455.7 385.8,467.3 390.0,475.0 C394.2,482.7 398.8,488.8 402.0,495.0 C405.2,501.2 408.0,506.2 409.5,512.0 C411.0,517.8 410.6,524.2 410.8,530.0 C411.0,535.8 411.3,541.7 410.5,547.0 C409.7,552.3 407.9,558.3 406.0,562.0 C404.1,565.7 402.7,567.3 399.4,569.0 C396.1,570.7 391.3,571.4 386.2,572.0 C381.1,572.6 376.4,572.9 368.7,572.8 C361.0,572.7 351.4,572.4 340.0,571.2 C328.6,570.0 310.0,568.0 300.0,565.7 C290.0,563.4 286.2,561.1 280.0,557.5 C273.8,553.9 267.7,549.1 263.0,544.0 C258.3,538.9 255.0,533.2 252.0,527.0 C249.0,520.8 246.5,513.8 245.0,507.0 C243.5,500.2 242.9,492.4 243.2,486.0 C243.5,479.6 245.6,473.9 247.0,468.6 C248.4,463.3 250.3,458.3 251.5,454.0 C252.7,449.7 252.2,445.8 254.0,443.0Z" fill="#F29178" clip-path="url(#hb)"/><path d="M252.0,446.0 C255.8,439.7 263.7,438.7 270.0,437.0 C276.3,435.3 282.3,435.8 290.0,436.0 C297.7,436.2 311.7,434.8 316.0,438.0 C320.3,441.2 316.7,450.0 316.0,455.0 C315.3,460.0 313.8,463.8 312.0,468.0 C310.2,472.2 308.3,475.5 305.0,480.0 C301.7,484.5 296.2,490.0 292.0,495.0 C287.8,500.0 283.8,505.2 280.0,510.0 C276.2,514.8 272.2,519.5 269.0,524.0 C265.8,528.5 263.8,537.7 261.0,537.0 C258.2,536.3 254.3,526.2 252.0,520.0 C249.7,513.8 247.8,507.5 247.0,500.0 C246.2,492.5 246.2,484.0 247.0,475.0 C247.8,466.0 248.2,452.3 252.0,446.0Z" fill="#B9696A"/><path d="M316.0,452.0 C315.2,455.0 313.3,464.5 311.0,470.0 C308.7,475.5 305.5,480.5 302.0,485.0 C298.5,489.5 293.7,492.8 290.0,497.0 C286.3,501.2 283.5,505.5 280.0,510.0 C276.5,514.5 272.2,519.5 269.0,524.0 C265.8,528.5 262.3,534.8 261.0,537.0" fill="none" stroke="#1a1a1a" stroke-width="0.9"/><path d="M257.0,443.0 C258.8,442.1 263.0,438.6 268.0,437.5 C273.0,436.4 281.3,436.5 287.0,436.6 C292.7,436.8 297.7,437.3 302.0,438.4 C306.3,439.5 310.7,440.6 313.0,443.0 C315.3,445.4 315.7,449.0 316.0,452.5 C316.3,456.0 315.2,461.9 315.0,463.8" fill="none" stroke="#1a1a1a" stroke-width="1.1"/><path d="M347.0,436.0 C347.9,433.3 350.3,434.1 352.5,433.8 C354.7,433.6 357.5,433.9 360.0,434.5 C362.5,435.1 365.3,435.9 367.5,437.5 C369.7,439.1 371.6,441.5 373.0,444.0 C374.4,446.5 376.0,449.8 376.0,452.5 C376.0,455.2 375.3,457.2 373.0,460.0 C370.7,462.8 365.4,467.5 362.0,469.4 C358.6,471.3 354.9,472.5 352.5,471.3 C350.1,470.1 348.4,465.6 347.5,462.0 C346.6,458.4 347.1,454.3 347.0,450.0 C346.9,445.7 346.1,438.7 347.0,436.0Z" fill="#B4656A" stroke="#1a1a1a" stroke-width="1"/><path d="M316.0,432.0 C318.7,429.2 325.0,428.3 330.0,428.0 C335.0,427.7 342.7,427.7 346.0,430.0 C349.3,432.3 349.5,437.7 350.0,442.0 C350.5,446.3 350.3,452.2 349.0,456.0 C347.7,459.8 345.5,463.3 342.0,465.0 C338.5,466.7 332.0,467.2 328.0,466.0 C324.0,464.8 320.3,461.5 318.0,458.0 C315.7,454.5 314.3,449.3 314.0,445.0 C313.7,440.7 313.3,434.8 316.0,432.0Z" fill="#4068A4" stroke="#1a1a1a" stroke-width="1.1"/><path d="M314.4,457.9 C315.6,457.9 317.8,465.1 318.8,469.5 C319.8,473.9 319.5,479.6 320.2,484.0 C320.9,488.4 322.4,492.9 323.1,495.6 C323.8,498.3 325.3,499.0 324.6,500.0 C323.9,501.0 320.0,500.0 318.8,501.4 C317.6,502.8 317.8,506.2 317.3,508.6 C316.8,511.0 315.4,513.2 315.9,515.9 C316.4,518.6 319.3,521.2 320.2,524.6 C321.1,528.0 321.7,533.1 321.0,536.0 C320.3,538.9 318.4,541.0 315.9,542.0 C313.3,543.0 308.6,541.0 305.7,542.0 C302.8,543.0 300.7,546.3 298.5,547.8 C296.3,549.2 295.1,550.5 292.7,550.7 C290.3,550.9 286.7,550.7 284.0,549.2 C281.3,547.8 279.1,543.2 276.7,542.0 C274.3,540.8 271.7,542.5 269.5,542.0 C267.3,541.5 263.4,541.9 263.7,539.0 C263.9,536.1 268.6,528.9 271.0,524.6 C273.4,520.3 275.8,517.4 278.2,513.0 C280.6,508.6 282.0,502.6 285.4,498.5 C288.8,494.4 294.9,491.7 298.5,488.3 C302.1,484.9 305.0,481.3 307.2,478.2 C309.4,475.1 310.3,472.9 311.5,469.5 C312.7,466.1 313.2,457.9 314.4,457.9Z" fill="#FAD796"/><path d="M319,488 Q313,494 309,500 M312,503 Q306,508 302,514 M306,521 Q300,526 296,533 M318,528 Q312,533 306,538 M289,538 Q285,542 281,546 M297,540 Q295,544 293,548" stroke="#F29178" stroke-width="2.6" stroke-linecap="round" fill="none"/><path d="M352,469 C354,478 356,485 358,492 M356,490 C350,492 344,495 341,500 C340,504 340,508 341,511 M360,492 C368,498 374,503 377,508 C380,514 383,522 386,531 M357,500 C359,510 361,520 362,531 C363,540 365,548 368,555 M356,505 C354,515 352,525 352,533 C352,542 354,550 357.8,559 M364,508 C367,517 370,525 371.4,531 C373,540 374,548 377,557" stroke="#FAD796" stroke-width="6.5" stroke-linecap="round" fill="none"/><path d="M314.4,459 C311,468 307,477 297,489.8 C292,493 288,496 285.4,498.5 C283,503 281,507 276.7,516 C274,519 271,522 269.5,523 M285.4,498.5 C287,503 288.3,507 288.3,510 C287.5,515 286.2,520 286.2,523 C286.5,528 286.9,532 286.9,534.7 C288,539 289,542 290.5,545 M288.3,523 C291,525 294,527 297,529 C300,532 303,534 305.7,536 M301.4,486.9 C302.5,492 304.3,498.5 304.3,498.5 C303.8,503 302.8,510 302.8,510 C302,513 301.4,516 301.4,516 M307.2,476.7 C310,480 312,483 313,484 C314,487 314.4,491.2 314.4,491.2" stroke="#B8341A" stroke-width="1.4" fill="none"/><path d="M350,470 C352,477 353,482 354.7,485.4 C358,489 362,492 365.4,494.5 C368,500 370,505 370,508 C369,514 368,519 367,523.3 C366,527 365,529 363.9,531 M370,508 C372,511 373,513 374.5,515.7 C377,519 379,523 380.6,526.4 M350,490 C348,491 347,492 345.6,493 C344,497 343,500 342.6,503.6" stroke="#B8341A" stroke-width="1.3" fill="none"/><path d="M313,460.8 C308,466 303,470 298.5,472.4 C295,477 293,481 291.2,484 C286,486 281,488 276.7,489.8 C271,491 266,492 262.2,492.7 C259,495 257,497 255,498.5 M301.4,463.7 C295,465 289,467 284,469.5 C280,472 277,475 273.8,478.2 M294,475.3 C289,478 285,480 281,482.5 C276,484 271,484 266,485 M276.7,489.8 C272,496 268,500 262,505" stroke="#4A6FB0" stroke-width="1.3" fill="none"/><path d="M350,470 C351,478 352,486 354.7,493 C357,500 359,505 360.8,508 C362.5,514 364,519 365.4,523.3 C366,529 366.5,534 367,538.5 C368.5,543 370,548 371.4,552.2 M353,490 C350,492 347,494 344,497.5 C342,500 341.5,502 341,505" stroke="#4A6FB0" stroke-width="1.1" fill="none"/><path d="M254.0,443.0 C255.8,440.2 259.1,439.6 262.0,437.5 C264.9,435.4 268.4,432.4 271.4,430.3 C274.3,428.2 277.3,426.7 279.7,424.8 C282.1,422.9 283.6,419.8 286.0,418.7 C288.4,417.6 290.9,417.9 294.0,418.3 C297.1,418.8 301.5,419.9 304.5,421.4 C307.5,422.8 310.2,425.2 312.0,427.0 C313.8,428.8 313.5,432.2 315.5,432.0 C317.5,431.8 320.1,426.8 323.8,425.5 C327.5,424.2 334.1,423.6 337.6,424.0 C341.1,424.4 343.2,426.7 345.0,428.0 C346.8,429.3 346.6,431.5 348.6,432.0 C350.6,432.5 353.9,430.5 357.0,431.0 C360.1,431.5 364.2,432.0 367.5,435.0 C370.8,438.0 373.2,442.3 377.0,449.0 C380.8,455.7 385.8,467.3 390.0,475.0 C394.2,482.7 398.8,488.8 402.0,495.0 C405.2,501.2 408.0,506.2 409.5,512.0 C411.0,517.8 410.6,524.2 410.8,530.0 C411.0,535.8 411.3,541.7 410.5,547.0 C409.7,552.3 407.9,558.3 406.0,562.0 C404.1,565.7 402.7,567.3 399.4,569.0 C396.1,570.7 391.3,571.4 386.2,572.0 C381.1,572.6 376.4,572.9 368.7,572.8 C361.0,572.7 351.4,572.4 340.0,571.2 C328.6,570.0 310.0,568.0 300.0,565.7 C290.0,563.4 286.2,561.1 280.0,557.5 C273.8,553.9 267.7,549.1 263.0,544.0 C258.3,538.9 255.0,533.2 252.0,527.0 C249.0,520.8 246.5,513.8 245.0,507.0 C243.5,500.2 242.9,492.4 243.2,486.0 C243.5,479.6 245.6,473.9 247.0,468.6 C248.4,463.3 250.3,458.3 251.5,454.0 C252.7,449.7 252.2,445.8 254.0,443.0Z" fill="none" stroke="#1a1a1a" stroke-width="5.2"/><path d="M254.0,443.0 C255.8,440.2 259.1,439.6 262.0,437.5 C264.9,435.4 268.4,432.4 271.4,430.3 C274.3,428.2 277.3,426.7 279.7,424.8 C282.1,422.9 283.6,419.8 286.0,418.7 C288.4,417.6 290.9,417.9 294.0,418.3 C297.1,418.8 301.5,419.9 304.5,421.4 C307.5,422.8 310.2,425.2 312.0,427.0 C313.8,428.8 313.5,432.2 315.5,432.0 C317.5,431.8 320.1,426.8 323.8,425.5 C327.5,424.2 334.1,423.6 337.6,424.0 C341.1,424.4 343.2,426.7 345.0,428.0 C346.8,429.3 346.6,431.5 348.6,432.0 C350.6,432.5 353.9,430.5 357.0,431.0 C360.1,431.5 364.2,432.0 367.5,435.0 C370.8,438.0 373.2,442.3 377.0,449.0 C380.8,455.7 385.8,467.3 390.0,475.0 C394.2,482.7 398.8,488.8 402.0,495.0 C405.2,501.2 408.0,506.2 409.5,512.0 C411.0,517.8 410.6,524.2 410.8,530.0 C411.0,535.8 411.3,541.7 410.5,547.0 C409.7,552.3 407.9,558.3 406.0,562.0 C404.1,565.7 402.7,567.3 399.4,569.0 C396.1,570.7 391.3,571.4 386.2,572.0 C381.1,572.6 376.4,572.9 368.7,572.8 C361.0,572.7 351.4,572.4 340.0,571.2 C328.6,570.0 310.0,568.0 300.0,565.7 C290.0,563.4 286.2,561.1 280.0,557.5 C273.8,553.9 267.7,549.1 263.0,544.0 C258.3,538.9 255.0,533.2 252.0,527.0 C249.0,520.8 246.5,513.8 245.0,507.0 C243.5,500.2 242.9,492.4 243.2,486.0 C243.5,479.6 245.6,473.9 247.0,468.6 C248.4,463.3 250.3,458.3 251.5,454.0 C252.7,449.7 252.2,445.8 254.0,443.0Z" fill="none" stroke="#C4E2F2" stroke-width="2.8"/><g transform="translate(180.5,341) rotate(35)"><ellipse rx="8.8" ry="14.7" fill="#E48066" stroke="#1a1a1a" stroke-width="0.8"/><ellipse rx="6.7" ry="12.2" fill="#E6E3DA" stroke="#1a1a1a" stroke-width="1"/><path d="M0.3,8.3h0.7M-3.1,6.4h0.7M-1.0,-2.1h0.7M5.3,0.9h0.7M-0.2,5.5h0.7M4.0,-0.2h0.7M2.1,-6.7h0.7M-1.4,-3.4h0.7M-3.6,-7.9h0.7M-4.9,-1.4h0.7M-0.7,-2.5h0.7M0.2,-8.7h0.7M-0.3,1.9h0.7M2.6,-5.8h0.7M-1.1,-10.4h0.7M-1.2,-10.6h0.7M-4.1,6.2h0.7M-5.3,3.7h0.7M1.3,-2.4h0.7M1.8,4.0h0.7M3.7,-1.6h0.7M-2.2,-4.4h0.7M-3.6,-0.3h0.7M-2.6,7.0h0.7M-4.8,-5.4h0.7M-2.3,-9.9h0.7M3.6,-8.8h0.7M-1.1,-4.0h0.7M3.6,-8.5h0.7M3.6,-4.8h0.7M-0.6,-5.1h0.7M2.2,-7.5h0.7M-0.3,2.8h0.7M3.5,-8.9h0.7M4.4,5.3h0.7M-1.9,2.3h0.7M-1.4,9.5h0.7M0.8,-1.7h0.7M-0.9,-1.6h0.7M-0.7,-6.4h0.7M4.2,-7.6h0.7M-5.8,-0.4h0.7M-0.6,2.9h0.7M-0.8,-1.2h0.7M1.2,6.8h0.7M-1.8,-2.9h0.7M5.2,2.8h0.7M-2.2,10.2h0.7M2.8,-4.2h0.7M-4.1,2.0h0.7M-2.8,-6.9h0.7M-4.3,-3.2h0.7M3.8,-2.9h0.7M-4.5,4.0h0.7M0.2,6.2h0.7M4.1,-1.1h0.7M-0.6,-0.4h0.7M-3.8,4.4h0.7M4.5,1.1h0.7M-1.0,-2.0h0.7M-2.8,-5.5h0.7M-1.5,-6.1h0.7M-1.3,-9.4h0.7M1.4,0.4h0.7M-2.6,-9.9h0.7M-0.0,7.6h0.7M-2.7,-3.5h0.7M-2.1,4.8h0.7M-3.0,6.4h0.7M-1.1,6.6h0.7M0.1,-1.8h0.7M-4.5,-4.1h0.7M-1.0,5.0h0.7M0.9,-5.2h0.7M1.5,6.9h0.7M-0.6,-3.4h0.7M-1.5,5.9h0.7M1.9,-6.5h0.7" stroke="#77776e" stroke-width="0.8"/></g><g transform="translate(161,378) rotate(25)"><ellipse rx="7.8" ry="14.2" fill="#E48066" stroke="#1a1a1a" stroke-width="0.8"/><ellipse rx="5.7" ry="11.7" fill="#E6E3DA" stroke="#1a1a1a" stroke-width="1"/><path d="M1.2,-3.5h0.7M-2.0,7.4h0.7M2.4,-4.8h0.7M0.3,3.7h0.7M-2.1,-0.9h0.7M1.5,-9.3h0.7M1.0,5.2h0.7M1.4,-8.1h0.7M1.0,-6.0h0.7M1.8,4.2h0.7M0.7,-5.4h0.7M-1.8,5.7h0.7M-2.7,3.3h0.7M1.7,-2.0h0.7M4.7,0.3h0.7M3.5,-7.3h0.7M-4.3,4.2h0.7M2.0,-2.2h0.7M-0.1,-9.9h0.7M-1.8,-6.6h0.7M-0.7,6.1h0.7M0.2,2.8h0.7M-2.2,-3.1h0.7M0.4,-2.1h0.7M3.3,-5.1h0.7M4.0,-4.7h0.7M2.9,-4.8h0.7M4.1,0.8h0.7M1.2,5.2h0.7M-1.8,-6.7h0.7M-4.0,5.4h0.7M-2.1,-4.1h0.7M-0.1,10.0h0.7M-4.2,1.4h0.7M-1.3,3.8h0.7M-4.2,-2.1h0.7M2.0,8.5h0.7M3.8,-4.6h0.7M0.2,-0.8h0.7M-3.1,-7.3h0.7M2.4,1.7h0.7M-0.4,7.8h0.7M-2.9,3.5h0.7M0.0,-0.5h0.7M1.6,1.3h0.7M0.9,2.0h0.7M4.4,-1.6h0.7M2.9,3.9h0.7M-1.1,5.5h0.7M-2.3,7.0h0.7M-2.5,-3.4h0.7M1.0,5.8h0.7M2.5,5.6h0.7M-0.6,-6.5h0.7M1.8,2.2h0.7M-2.6,6.0h0.7M0.6,-6.5h0.7M1.2,-8.1h0.7M-2.7,2.7h0.7M-4.0,0.2h0.7M-3.5,4.3h0.7M-2.3,1.3h0.7M-3.9,-2.0h0.7M2.8,3.1h0.7" stroke="#77776e" stroke-width="0.8"/></g><g transform="translate(143,421) rotate(20)"><ellipse rx="7.3" ry="13.7" fill="#E48066" stroke="#1a1a1a" stroke-width="0.8"/><ellipse rx="5.2" ry="11.2" fill="#E6E3DA" stroke="#1a1a1a" stroke-width="1"/><path d="M-3.6,4.3h0.7M2.4,-2.4h0.7M3.1,-5.5h0.7M-0.2,7.0h0.7M2.8,6.5h0.7M-2.1,-8.3h0.7M0.9,-8.1h0.7M-0.3,-7.7h0.7M2.6,4.8h0.7M1.6,0.1h0.7M0.1,-2.1h0.7M1.1,1.8h0.7M1.3,-3.0h0.7M3.9,1.4h0.7M2.9,6.5h0.7M-1.8,-8.4h0.7M3.1,-2.3h0.7M0.2,-1.9h0.7M0.3,-7.3h0.7M-0.3,-3.3h0.7M-0.0,-10.0h0.7M2.3,2.2h0.7M-3.6,-3.7h0.7M0.1,4.4h0.7M0.0,8.1h0.7M0.1,-6.5h0.7M-1.8,4.8h0.7M-1.6,5.4h0.7M2.6,3.6h0.7M2.7,-1.1h0.7M-0.0,-4.1h0.7M-1.4,-8.3h0.7M-1.4,-6.6h0.7M-3.4,0.8h0.7M1.3,-2.4h0.7M3.1,5.0h0.7M2.7,-3.7h0.7M-3.4,3.1h0.7M0.9,4.9h0.7M1.0,7.5h0.7M-0.8,4.6h0.7M-1.5,-9.4h0.7M-1.0,8.3h0.7M-3.4,4.9h0.7M-1.9,-2.7h0.7M0.1,1.5h0.7M-2.6,0.8h0.7M1.2,5.5h0.7M-1.7,8.2h0.7M2.7,8.0h0.7M-3.3,1.0h0.7M-3.8,1.9h0.7M1.4,-6.9h0.7M-3.6,1.0h0.7M1.7,-5.1h0.7M-0.4,-10.0h0.7" stroke="#77776e" stroke-width="0.8"/></g><g transform="translate(130,461) rotate(12)"><ellipse rx="7.3" ry="13.7" fill="#E48066" stroke="#1a1a1a" stroke-width="0.8"/><ellipse rx="5.2" ry="11.2" fill="#E6E3DA" stroke="#1a1a1a" stroke-width="1"/><path d="M-2.0,1.0h0.7M0.3,8.7h0.7M-1.9,-9.0h0.7M1.3,-4.0h0.7M0.8,4.9h0.7M1.4,8.0h0.7M2.6,-7.6h0.7M-0.1,9.6h0.7M-1.1,6.2h0.7M-0.2,-3.0h0.7M3.3,5.2h0.7M-0.7,5.9h0.7M-3.1,-4.1h0.7M2.5,0.3h0.7M-2.8,2.8h0.7M0.8,7.6h0.7M2.6,-1.8h0.7M-1.4,-1.0h0.7M-0.5,8.3h0.7M3.1,6.3h0.7M1.1,-1.7h0.7M2.5,-2.3h0.7M0.5,-8.9h0.7M-1.0,8.1h0.7M-2.2,-7.6h0.7M-0.4,8.9h0.7M3.4,-2.0h0.7M-1.4,-0.8h0.7M-2.5,0.2h0.7M-0.7,-8.3h0.7M-1.7,-1.8h0.7M-2.1,-6.5h0.7M1.7,8.8h0.7M-0.8,-3.0h0.7M1.5,-1.6h0.7M-1.8,7.6h0.7M-2.6,-4.4h0.7M-1.7,-5.6h0.7M-0.7,4.0h0.7M3.3,3.6h0.7M0.1,-7.6h0.7M-0.2,-6.2h0.7M-0.3,6.3h0.7M0.6,-1.5h0.7M-2.1,-0.2h0.7M0.3,-6.1h0.7M-1.4,5.7h0.7M-3.6,-2.3h0.7M-2.4,7.6h0.7M1.7,3.5h0.7M1.2,2.0h0.7M0.7,-8.6h0.7M0.7,4.1h0.7M-3.2,4.4h0.7M1.5,-8.2h0.7M-1.4,-2.2h0.7" stroke="#77776e" stroke-width="0.8"/></g><g transform="translate(121,508) rotate(8)"><ellipse rx="7.3" ry="13.7" fill="#E48066" stroke="#1a1a1a" stroke-width="0.8"/><ellipse rx="5.2" ry="11.2" fill="#E6E3DA" stroke="#1a1a1a" stroke-width="1"/><path d="M-1.5,2.7h0.7M-3.2,-1.3h0.7M0.6,4.9h0.7M0.1,-1.8h0.7M1.3,-9.2h0.7M2.5,-2.0h0.7M-3.1,-2.6h0.7M-2.8,-7.6h0.7M-0.9,-5.2h0.7M1.9,-5.5h0.7M-2.9,-5.2h0.7M3.8,0.1h0.7M-1.6,-6.1h0.7M-2.9,-1.0h0.7M1.1,7.0h0.7M3.0,1.7h0.7M-1.7,-5.4h0.7M-3.9,-4.1h0.7M1.2,-2.4h0.7M0.9,-7.8h0.7M2.5,1.9h0.7M0.1,2.9h0.7M-4.0,-2.4h0.7M-1.8,8.6h0.7M-0.5,-3.5h0.7M2.1,-6.2h0.7M3.3,-3.9h0.7M-0.2,-6.0h0.7M1.4,-9.3h0.7M1.8,-5.2h0.7M0.1,-7.2h0.7M0.7,1.3h0.7M1.7,2.2h0.7M1.6,6.2h0.7M-1.0,-7.2h0.7M-3.1,3.9h0.7M-1.0,6.6h0.7M0.1,-6.5h0.7M1.7,8.9h0.7M-0.5,-6.1h0.7M-2.2,5.4h0.7M-1.7,-2.8h0.7M2.0,0.1h0.7M0.3,-3.8h0.7M-1.8,1.1h0.7M0.4,4.1h0.7M-1.5,2.4h0.7M1.4,0.6h0.7M1.5,6.3h0.7M0.6,0.6h0.7M-2.6,2.1h0.7M-0.3,-2.2h0.7M-2.2,3.7h0.7M4.2,1.7h0.7M0.3,3.1h0.7M-1.7,0.7h0.7" stroke="#77776e" stroke-width="0.8"/></g><g transform="translate(115,555) rotate(3)"><ellipse rx="7.3" ry="13.7" fill="#E48066" stroke="#1a1a1a" stroke-width="0.8"/><ellipse rx="5.2" ry="11.2" fill="#E6E3DA" stroke="#1a1a1a" stroke-width="1"/><path d="M-1.8,-4.2h0.7M0.7,1.6h0.7M-0.3,-5.3h0.7M0.7,-6.8h0.7M2.2,-2.3h0.7M0.0,5.3h0.7M1.3,-7.5h0.7M-0.7,2.6h0.7M-1.7,-9.2h0.7M-0.2,-0.3h0.7M1.3,0.6h0.7M0.4,1.7h0.7M3.3,2.8h0.7M1.6,-2.7h0.7M2.9,-1.2h0.7M1.4,-9.3h0.7M0.7,-0.7h0.7M-1.1,7.6h0.7M1.2,-1.0h0.7M-1.1,9.1h0.7M2.0,4.2h0.7M-1.8,7.3h0.7M1.6,-1.9h0.7M-0.2,-8.8h0.7M1.6,-6.6h0.7M2.3,-2.9h0.7M-1.8,2.5h0.7M0.5,-7.0h0.7M-0.2,4.2h0.7M-0.6,-7.9h0.7M-0.7,-6.2h0.7M-1.7,0.3h0.7M-0.2,-1.5h0.7M-3.7,1.9h0.7M-0.6,-2.9h0.7M0.3,9.4h0.7M-2.5,-7.5h0.7M2.0,-5.0h0.7M2.9,-5.3h0.7M-1.3,5.4h0.7M2.4,2.8h0.7M1.3,-0.9h0.7M-1.3,-1.4h0.7M3.0,4.0h0.7M0.1,2.3h0.7M2.0,6.8h0.7M-0.4,-0.6h0.7M0.5,10.0h0.7M0.6,7.6h0.7M-3.3,4.4h0.7M-3.0,-5.6h0.7M-1.8,-1.0h0.7M0.5,2.6h0.7M0.7,-3.1h0.7M4.2,1.5h0.7M1.3,9.2h0.7" stroke="#77776e" stroke-width="0.8"/></g><g transform="translate(112,599) rotate(0)"><ellipse rx="7.3" ry="13.7" fill="#E48066" stroke="#1a1a1a" stroke-width="0.8"/><ellipse rx="5.2" ry="11.2" fill="#E6E3DA" stroke="#1a1a1a" stroke-width="1"/><path d="M2.5,3.6h0.7M0.7,9.2h0.7M-2.6,-5.5h0.7M0.3,-9.6h0.7M-1.9,6.6h0.7M-1.3,1.2h0.7M1.7,-6.8h0.7M0.8,-4.3h0.7M-2.8,-1.7h0.7M-0.2,-2.8h0.7M-1.7,5.9h0.7M2.9,3.3h0.7M-0.3,-6.7h0.7M-2.0,-6.4h0.7M0.6,5.9h0.7M2.5,-0.2h0.7M-1.1,1.3h0.7M0.4,4.1h0.7M3.3,-3.7h0.7M3.0,-7.2h0.7M-3.2,-6.4h0.7M-2.7,-1.5h0.7M3.9,-3.1h0.7M2.8,-2.2h0.7M0.4,-6.5h0.7M4.1,-0.2h0.7M-1.1,9.6h0.7M0.5,2.9h0.7M-0.4,-5.5h0.7M-3.4,-1.0h0.7M3.6,2.2h0.7M-0.5,6.7h0.7M-2.1,7.3h0.7M-0.0,-5.5h0.7M1.9,3.4h0.7M-1.0,1.5h0.7M2.1,7.4h0.7M-1.3,-9.7h0.7M4.0,-1.2h0.7M-1.2,3.0h0.7M-1.1,6.5h0.7M-3.1,-1.2h0.7M-2.5,7.3h0.7M-0.6,6.8h0.7M2.9,-6.0h0.7M-0.6,4.9h0.7M0.2,-1.0h0.7M2.1,5.5h0.7M-1.7,-0.9h0.7M1.8,1.4h0.7M0.4,-7.0h0.7M3.8,-1.2h0.7M0.8,-0.3h0.7M0.2,1.1h0.7M-2.3,2.5h0.7M3.0,2.4h0.7" stroke="#77776e" stroke-width="0.8"/></g><g transform="translate(115,643) rotate(-3)"><ellipse rx="7.3" ry="13.7" fill="#E48066" stroke="#1a1a1a" stroke-width="0.8"/><ellipse rx="5.2" ry="11.2" fill="#E6E3DA" stroke="#1a1a1a" stroke-width="1"/><path d="M2.0,3.2h0.7M0.1,9.2h0.7M-1.9,2.6h0.7M2.7,1.8h0.7M-2.5,-6.1h0.7M3.3,-4.8h0.7M0.0,3.8h0.7M0.2,-9.1h0.7M-3.9,-0.5h0.7M-2.2,-1.7h0.7M0.3,1.2h0.7M-2.5,-7.6h0.7M2.4,-3.9h0.7M-2.1,-8.6h0.7M1.3,-7.4h0.7M-2.7,3.8h0.7M0.9,3.9h0.7M-1.7,-9.4h0.7M-2.6,-1.9h0.7M-1.7,5.6h0.7M0.9,-6.5h0.7M1.6,-1.0h0.7M-1.2,6.8h0.7M-3.4,5.0h0.7M1.9,-8.8h0.7M-0.6,-1.2h0.7M-2.8,-3.4h0.7M-2.3,0.4h0.7M-1.0,-9.5h0.7M2.8,5.1h0.7M-2.1,5.3h0.7M3.3,-6.2h0.7M-1.2,-3.6h0.7M1.6,-2.1h0.7M-2.9,6.3h0.7M-0.9,4.9h0.7M4.0,-3.1h0.7M-1.1,5.9h0.7M-0.3,3.7h0.7M-0.0,10.2h0.7M1.8,2.4h0.7M0.4,2.8h0.7M-3.7,-1.5h0.7M1.8,-7.0h0.7M0.1,-0.7h0.7M-0.8,9.9h0.7M2.0,2.2h0.7M-2.2,0.6h0.7M-0.9,-0.6h0.7M0.4,10.0h0.7M2.5,7.7h0.7M1.9,9.2h0.7M-1.6,-7.4h0.7M0.6,1.9h0.7M0.1,-4.3h0.7M1.4,8.7h0.7" stroke="#77776e" stroke-width="0.8"/></g><g transform="translate(124,684) rotate(-10)"><ellipse rx="7.3" ry="13.7" fill="#E48066" stroke="#1a1a1a" stroke-width="0.8"/><ellipse rx="5.2" ry="11.2" fill="#E6E3DA" stroke="#1a1a1a" stroke-width="1"/><path d="M0.7,-1.6h0.7M3.0,-1.8h0.7M-1.0,2.3h0.7M-3.3,6.5h0.7M-0.3,3.7h0.7M0.9,2.9h0.7M-2.5,7.9h0.7M1.7,2.1h0.7M4.0,-3.8h0.7M2.1,-0.6h0.7M-2.6,8.0h0.7M-3.6,0.8h0.7M-0.2,1.4h0.7M-2.1,7.4h0.7M0.6,-7.6h0.7M-3.1,1.7h0.7M-2.9,2.7h0.7M1.0,-4.0h0.7M-3.4,-5.6h0.7M1.1,-3.6h0.7M3.8,-2.2h0.7M1.1,4.6h0.7M0.3,2.3h0.7M2.7,-0.9h0.7M1.0,-2.5h0.7M4.0,0.8h0.7M1.2,-9.9h0.7M-1.2,-6.9h0.7M0.1,-3.1h0.7M-2.8,-1.7h0.7M2.0,6.3h0.7M-1.4,6.6h0.7M-1.7,4.1h0.7M-2.1,6.2h0.7M4.1,-1.2h0.7M2.5,-7.2h0.7M-1.0,9.9h0.7M-0.2,3.6h0.7M-3.7,-0.0h0.7M-1.9,7.0h0.7M-0.9,9.9h0.7M-2.8,2.1h0.7M-3.9,-1.9h0.7M3.1,-0.6h0.7M-3.2,2.9h0.7M2.5,2.8h0.7M2.2,-7.4h0.7M3.7,3.5h0.7M-3.2,6.8h0.7M-1.3,3.5h0.7M-3.9,-2.9h0.7M-3.6,4.0h0.7M-0.6,-6.0h0.7M-1.0,7.0h0.7M-2.1,3.7h0.7M-2.3,-7.9h0.7" stroke="#77776e" stroke-width="0.8"/></g><g transform="translate(445.5,340.4) rotate(-30)"><ellipse rx="8.3" ry="14.2" fill="#E48066" stroke="#1a1a1a" stroke-width="0.8"/><ellipse rx="6.2" ry="11.7" fill="#E6E3DA" stroke="#1a1a1a" stroke-width="1"/><path d="M-1.7,-2.1h0.7M0.6,6.5h0.7M-1.5,-2.7h0.7M2.6,3.0h0.7M-0.2,1.8h0.7M-4.9,-2.5h0.7M-4.4,-2.0h0.7M2.3,-8.7h0.7M3.0,-3.7h0.7M-0.8,-3.4h0.7M2.4,-4.5h0.7M-4.9,1.6h0.7M-0.5,4.6h0.7M1.8,-7.5h0.7M0.8,0.9h0.7M-0.3,0.8h0.7M1.1,-4.0h0.7M-0.5,6.7h0.7M-3.5,-0.5h0.7M-3.0,-6.3h0.7M-1.5,1.3h0.7M4.4,-1.2h0.7M3.0,3.6h0.7M0.1,-10.8h0.7M0.5,0.4h0.7M-3.4,0.9h0.7M3.8,-6.0h0.7M-1.7,6.1h0.7M-4.3,-5.1h0.7M1.0,6.5h0.7M3.6,4.6h0.7M5.1,1.7h0.7M-4.0,-1.2h0.7M2.2,2.7h0.7M-4.8,2.0h0.7M-2.7,-1.4h0.7M4.3,-1.0h0.7M-2.3,-0.9h0.7M-1.5,9.8h0.7M2.6,5.8h0.7M-2.3,-4.4h0.7M0.6,-10.2h0.7M2.8,-7.2h0.7M0.4,2.5h0.7M-2.7,2.5h0.7M1.7,9.5h0.7M1.0,9.6h0.7M1.7,-1.4h0.7M2.9,-3.5h0.7M0.5,4.5h0.7M3.6,1.8h0.7M-3.7,6.6h0.7M0.6,-2.2h0.7M-2.7,3.9h0.7M1.2,4.9h0.7M-0.4,9.0h0.7M-0.9,3.0h0.7M0.7,7.1h0.7M-2.4,-2.1h0.7M-0.8,-4.8h0.7M-2.0,-7.4h0.7M2.1,8.4h0.7M-3.1,4.9h0.7M-3.4,-4.9h0.7M-1.2,0.9h0.7M1.1,-9.7h0.7M-4.0,0.5h0.7M-0.6,10.2h0.7M-1.0,-4.7h0.7M2.2,-9.8h0.7" stroke="#77776e" stroke-width="0.8"/></g><g transform="translate(465,378.5) rotate(-25)"><ellipse rx="7.8" ry="14.2" fill="#E48066" stroke="#1a1a1a" stroke-width="0.8"/><ellipse rx="5.7" ry="11.7" fill="#E6E3DA" stroke="#1a1a1a" stroke-width="1"/><path d="M-2.7,8.9h0.7M-2.0,0.5h0.7M-0.6,-6.2h0.7M-0.4,-8.2h0.7M2.7,4.9h0.7M2.0,-6.0h0.7M-4.3,-2.5h0.7M-3.2,2.5h0.7M-3.8,-4.9h0.7M0.4,3.2h0.7M0.3,-8.0h0.7M-1.5,9.6h0.7M2.6,-5.3h0.7M4.4,-0.7h0.7M-0.0,-5.8h0.7M3.9,0.6h0.7M-0.3,-6.4h0.7M-3.6,1.1h0.7M0.0,9.0h0.7M-2.8,-2.6h0.7M2.8,5.1h0.7M-1.7,8.3h0.7M1.4,6.0h0.7M1.0,6.5h0.7M-1.4,-1.6h0.7M3.1,2.5h0.7M1.0,7.3h0.7M0.8,3.0h0.7M-4.5,-2.4h0.7M2.3,-5.7h0.7M-1.0,1.7h0.7M-0.4,6.0h0.7M1.5,-1.3h0.7M3.1,-2.4h0.7M-2.3,2.2h0.7M2.0,-1.1h0.7M-3.1,-3.3h0.7M0.7,4.8h0.7M4.3,-0.9h0.7M-0.5,-10.2h0.7M3.3,5.3h0.7M0.0,-5.1h0.7M-4.6,2.8h0.7M-1.9,8.4h0.7M2.0,7.6h0.7M-0.4,7.6h0.7M-3.1,7.2h0.7M-0.1,-7.7h0.7M-1.2,-6.5h0.7M0.8,-5.2h0.7M-3.5,-2.3h0.7M-0.8,1.5h0.7M1.9,7.6h0.7M1.0,9.1h0.7M-4.7,-0.3h0.7M2.4,-7.5h0.7M-0.7,1.6h0.7M-3.9,-3.2h0.7M1.9,-2.3h0.7M2.6,9.0h0.7M-0.2,-7.5h0.7M-0.1,-4.2h0.7M-3.8,-2.4h0.7M-1.5,-2.6h0.7" stroke="#77776e" stroke-width="0.8"/></g><g transform="translate(481,418) rotate(-20)"><ellipse rx="7.3" ry="13.7" fill="#E48066" stroke="#1a1a1a" stroke-width="0.8"/><ellipse rx="5.2" ry="11.2" fill="#E6E3DA" stroke="#1a1a1a" stroke-width="1"/><path d="M2.2,6.2h0.7M1.2,-2.5h0.7M1.2,0.1h0.7M0.6,-6.3h0.7M-4.1,2.8h0.7M-1.7,-3.4h0.7M-0.1,-0.4h0.7M-0.7,8.4h0.7M0.4,1.6h0.7M-2.4,-0.7h0.7M1.3,-0.6h0.7M0.9,-6.1h0.7M1.0,-6.5h0.7M-1.2,-5.1h0.7M0.5,6.8h0.7M0.8,-5.8h0.7M0.3,6.6h0.7M2.0,3.3h0.7M-2.8,-3.4h0.7M-1.9,-3.2h0.7M0.7,0.3h0.7M-1.0,3.9h0.7M-2.0,-2.2h0.7M0.2,-8.0h0.7M-1.9,-7.5h0.7M-2.8,-0.9h0.7M-0.4,2.4h0.7M0.8,-7.0h0.7M3.4,5.8h0.7M-3.0,-4.0h0.7M-1.4,1.4h0.7M1.8,-0.0h0.7M-2.9,7.7h0.7M2.2,5.1h0.7M-2.1,0.7h0.7M2.5,-3.0h0.7M3.0,0.5h0.7M3.6,0.3h0.7M2.8,-7.2h0.7M3.4,2.5h0.7M-1.0,6.7h0.7M-0.7,5.4h0.7M2.3,6.0h0.7M3.6,5.3h0.7M4.1,2.7h0.7M0.4,2.8h0.7M-0.1,-7.5h0.7M0.4,-7.3h0.7M-0.8,-2.2h0.7M-1.4,-6.5h0.7M0.3,-0.2h0.7M3.2,3.5h0.7M2.5,-3.0h0.7M-0.8,-7.5h0.7M-2.3,4.4h0.7M-0.6,-1.0h0.7" stroke="#77776e" stroke-width="0.8"/></g><g transform="translate(492.5,460) rotate(-12)"><ellipse rx="7.3" ry="13.7" fill="#E48066" stroke="#1a1a1a" stroke-width="0.8"/><ellipse rx="5.2" ry="11.2" fill="#E6E3DA" stroke="#1a1a1a" stroke-width="1"/><path d="M-1.3,8.3h0.7M-0.2,7.1h0.7M-0.1,6.2h0.7M-2.2,-7.2h0.7M2.9,-1.9h0.7M0.7,5.7h0.7M2.0,1.8h0.7M-2.9,-4.1h0.7M0.1,4.4h0.7M1.5,2.5h0.7M-2.2,-0.0h0.7M2.4,-5.2h0.7M-1.5,5.7h0.7M3.6,2.2h0.7M0.0,-6.2h0.7M-0.3,-5.3h0.7M0.4,4.8h0.7M1.1,7.6h0.7M-2.3,-6.8h0.7M3.0,5.5h0.7M-2.6,0.9h0.7M-2.8,-0.1h0.7M0.8,6.2h0.7M-2.2,-6.9h0.7M1.6,-2.3h0.7M3.0,-5.8h0.7M-1.0,-9.9h0.7M2.5,6.9h0.7M1.2,-2.1h0.7M-3.5,-5.6h0.7M-1.1,9.2h0.7M2.4,-3.8h0.7M1.2,3.8h0.7M1.3,-5.9h0.7M-1.1,6.3h0.7M2.0,-2.3h0.7M4.2,1.2h0.7M-1.1,5.8h0.7M2.3,-0.8h0.7M3.5,5.0h0.7M0.1,4.8h0.7M1.9,-1.9h0.7M2.0,-3.5h0.7M-0.7,4.5h0.7M-3.1,-2.0h0.7M-2.5,4.4h0.7M-1.2,9.0h0.7M3.4,-3.6h0.7M0.5,-2.5h0.7M-0.0,4.6h0.7M2.4,8.4h0.7M3.4,-5.5h0.7M-1.4,-1.2h0.7M-0.9,1.1h0.7M1.8,-3.0h0.7M-1.0,9.7h0.7" stroke="#77776e" stroke-width="0.8"/></g><g transform="translate(501,506) rotate(-8)"><ellipse rx="7.3" ry="13.7" fill="#E48066" stroke="#1a1a1a" stroke-width="0.8"/><ellipse rx="5.2" ry="11.2" fill="#E6E3DA" stroke="#1a1a1a" stroke-width="1"/><path d="M1.3,9.4h0.7M-1.3,7.8h0.7M3.2,6.1h0.7M-2.0,3.6h0.7M-1.9,-6.5h0.7M-0.0,3.6h0.7M-0.6,-0.7h0.7M1.7,-4.4h0.7M1.2,5.2h0.7M1.8,3.8h0.7M-2.6,-1.8h0.7M-1.2,4.8h0.7M-3.8,0.8h0.7M-3.5,3.4h0.7M-1.5,0.4h0.7M1.9,8.3h0.7M-2.6,0.8h0.7M-3.9,-0.9h0.7M-1.8,4.4h0.7M-0.3,0.8h0.7M-2.9,-2.0h0.7M-2.9,0.2h0.7M-3.6,1.5h0.7M1.7,9.4h0.7M3.0,6.3h0.7M1.7,8.2h0.7M-0.1,2.9h0.7M-3.8,-2.4h0.7M2.3,-8.0h0.7M1.0,-0.3h0.7M-1.0,2.3h0.7M0.1,-6.9h0.7M-0.1,-9.2h0.7M3.5,-0.1h0.7M2.3,-5.4h0.7M3.5,4.7h0.7M1.1,1.6h0.7M1.1,-4.8h0.7M-0.4,-1.5h0.7M0.9,8.5h0.7M3.0,1.7h0.7M1.8,-1.8h0.7M-1.0,-8.5h0.7M-2.7,-6.2h0.7M-0.2,-1.2h0.7M1.1,7.0h0.7M2.0,-0.9h0.7M-1.3,-1.9h0.7M1.6,-5.6h0.7M-3.5,-1.2h0.7M2.4,6.7h0.7M1.2,-9.1h0.7M-0.4,4.9h0.7M2.1,8.4h0.7M-2.5,2.4h0.7M-3.6,-1.1h0.7" stroke="#77776e" stroke-width="0.8"/></g><g transform="translate(509,554) rotate(-3)"><ellipse rx="7.3" ry="13.7" fill="#E48066" stroke="#1a1a1a" stroke-width="0.8"/><ellipse rx="5.2" ry="11.2" fill="#E6E3DA" stroke="#1a1a1a" stroke-width="1"/><path d="M-1.0,5.4h0.7M0.4,-9.0h0.7M-0.3,2.7h0.7M3.3,-3.8h0.7M-2.3,-3.7h0.7M2.7,-1.7h0.7M0.3,3.2h0.7M-2.0,6.4h0.7M-2.8,7.5h0.7M-1.7,-5.6h0.7M-1.8,-6.8h0.7M-2.2,-4.9h0.7M-3.0,-1.0h0.7M0.9,-3.9h0.7M0.5,-5.5h0.7M0.7,-2.3h0.7M-2.8,0.6h0.7M-0.5,-4.5h0.7M-0.1,3.7h0.7M-3.0,-2.9h0.7M1.8,0.0h0.7M1.3,9.6h0.7M-3.1,2.2h0.7M-0.9,8.1h0.7M1.4,-7.8h0.7M2.9,0.1h0.7M-0.9,0.2h0.7M0.6,-5.6h0.7M-0.9,7.8h0.7M-2.6,-3.7h0.7M2.0,-5.7h0.7M-0.6,2.2h0.7M-2.5,-2.0h0.7M-2.5,-1.4h0.7M0.8,0.1h0.7M0.7,2.6h0.7M1.9,-6.3h0.7M0.3,8.7h0.7M-0.7,-1.9h0.7M0.0,-4.9h0.7M1.6,-0.1h0.7M-0.5,5.0h0.7M2.5,-7.1h0.7M-1.5,-1.9h0.7M-3.2,3.7h0.7M3.9,3.5h0.7M2.3,-8.3h0.7M-1.1,-7.7h0.7M2.2,-0.8h0.7M-0.5,3.4h0.7M1.6,8.3h0.7M3.1,5.0h0.7M-3.2,5.9h0.7M0.2,-8.5h0.7M0.5,-1.8h0.7M-0.3,6.2h0.7" stroke="#77776e" stroke-width="0.8"/></g><g transform="translate(513,601) rotate(0)"><ellipse rx="7.3" ry="13.7" fill="#E48066" stroke="#1a1a1a" stroke-width="0.8"/><ellipse rx="5.2" ry="11.2" fill="#E6E3DA" stroke="#1a1a1a" stroke-width="1"/><path d="M-3.2,3.6h0.7M2.7,-6.1h0.7M3.2,-3.7h0.7M-1.9,5.8h0.7M-0.0,-9.3h0.7M-1.8,4.5h0.7M-1.5,-3.2h0.7M0.0,-0.1h0.7M-1.8,-5.8h0.7M1.1,7.3h0.7M-4.2,1.6h0.7M2.5,-5.2h0.7M2.8,-7.0h0.7M2.0,8.1h0.7M2.1,-8.9h0.7M0.2,-6.4h0.7M0.9,8.0h0.7M0.9,8.7h0.7M-3.5,-4.2h0.7M-1.5,4.4h0.7M2.9,-4.7h0.7M-2.3,5.3h0.7M-3.2,3.3h0.7M-2.3,-0.6h0.7M4.0,-1.2h0.7M0.1,-5.4h0.7M1.3,8.3h0.7M1.5,-7.5h0.7M0.8,8.5h0.7M-2.6,-0.9h0.7M-2.4,-3.7h0.7M-2.2,-7.2h0.7M1.4,-0.4h0.7M-3.8,-4.3h0.7M-1.8,-6.5h0.7M0.5,-1.5h0.7M0.9,-7.8h0.7M-2.1,-2.9h0.7M-1.1,-2.5h0.7M-2.2,-0.8h0.7M3.5,-3.8h0.7M-3.7,1.5h0.7M-2.3,4.9h0.7M2.1,8.1h0.7M0.3,-8.9h0.7M3.4,4.7h0.7M3.2,0.6h0.7M-1.0,0.2h0.7M-3.6,4.6h0.7M-1.7,-4.1h0.7M1.0,-5.6h0.7M2.2,-3.9h0.7M3.7,4.8h0.7M2.0,2.2h0.7M0.2,-3.5h0.7M-3.8,-2.6h0.7" stroke="#77776e" stroke-width="0.8"/></g><g transform="translate(512,644) rotate(3)"><ellipse rx="7.3" ry="13.7" fill="#E48066" stroke="#1a1a1a" stroke-width="0.8"/><ellipse rx="5.2" ry="11.2" fill="#E6E3DA" stroke="#1a1a1a" stroke-width="1"/><path d="M-2.1,-3.3h0.7M0.2,-9.3h0.7M-3.0,-3.9h0.7M-1.2,5.9h0.7M4.2,-0.5h0.7M1.9,0.0h0.7M0.6,9.1h0.7M0.5,4.0h0.7M0.2,-4.2h0.7M2.9,-1.0h0.7M3.1,-5.5h0.7M1.0,8.8h0.7M-1.7,2.5h0.7M3.5,2.5h0.7M-2.2,-2.1h0.7M0.9,-4.0h0.7M-1.2,1.0h0.7M-2.4,7.8h0.7M-1.7,-0.0h0.7M0.3,8.2h0.7M-0.7,9.6h0.7M3.7,3.6h0.7M-2.8,-6.5h0.7M-0.7,2.1h0.7M1.6,7.2h0.7M1.4,0.6h0.7M0.8,-9.5h0.7M2.4,-7.4h0.7M-3.8,-3.3h0.7M-1.0,-7.3h0.7M-0.6,0.7h0.7M1.8,2.7h0.7M-1.5,0.9h0.7M3.2,-1.4h0.7M-0.2,-9.7h0.7M0.6,9.6h0.7M2.1,-1.4h0.7M2.7,6.5h0.7M3.0,-5.9h0.7M-2.8,4.4h0.7M1.6,3.3h0.7M-3.2,4.3h0.7M3.5,5.3h0.7M4.2,1.9h0.7M0.3,9.3h0.7M1.7,-9.2h0.7M-3.5,1.6h0.7M-1.0,9.1h0.7M3.1,6.1h0.7M-0.9,-1.4h0.7M2.3,-2.1h0.7M2.0,2.2h0.7M2.2,0.9h0.7M-1.1,-9.9h0.7M-2.7,-7.0h0.7M1.6,-7.8h0.7" stroke="#77776e" stroke-width="0.8"/></g><g transform="translate(513.5,686) rotate(8)"><ellipse rx="7.3" ry="13.7" fill="#E48066" stroke="#1a1a1a" stroke-width="0.8"/><ellipse rx="5.2" ry="11.2" fill="#E6E3DA" stroke="#1a1a1a" stroke-width="1"/><path d="M-1.6,3.4h0.7M1.8,6.3h0.7M1.1,8.5h0.7M-1.4,7.1h0.7M-3.3,-2.3h0.7M1.2,4.3h0.7M-0.7,-4.4h0.7M-2.0,-8.9h0.7M-3.2,6.5h0.7M-3.1,-6.6h0.7M-3.7,-1.5h0.7M-0.8,-4.1h0.7M-3.3,-0.9h0.7M-3.4,1.9h0.7M3.2,-5.0h0.7M0.6,-3.6h0.7M-1.0,-7.8h0.7M0.2,-0.2h0.7M2.0,9.0h0.7M-2.5,6.2h0.7M-2.3,-3.5h0.7M-3.0,2.9h0.7M3.1,-0.7h0.7M0.6,-5.5h0.7M-0.8,-7.8h0.7M-0.2,-9.7h0.7M3.7,4.9h0.7M-1.7,-3.4h0.7M-1.3,0.7h0.7M0.5,9.4h0.7M-1.0,-9.3h0.7M0.7,2.9h0.7M-2.2,5.0h0.7M-0.6,-5.5h0.7M-0.3,-7.8h0.7M-0.9,8.9h0.7M3.0,3.5h0.7M0.3,2.0h0.7M-3.1,1.0h0.7M-2.0,-4.1h0.7M3.4,-3.9h0.7M0.2,0.6h0.7M2.7,-1.6h0.7M1.4,2.7h0.7M-0.6,-4.1h0.7M-2.5,6.1h0.7M-2.1,6.7h0.7M3.6,-2.9h0.7M-2.4,-5.9h0.7M-1.3,7.7h0.7M-2.0,-6.4h0.7M-3.7,0.5h0.7M1.0,8.3h0.7M0.8,-0.3h0.7M-0.1,10.2h0.7M3.4,4.6h0.7" stroke="#77776e" stroke-width="0.8"/></g><path d="M123,384.5L268,384.5M67,419.5L211,419.5M82,453L305,453M80,487.5L251,487.5M93,522L320,522M66,556.5L114,556.5M66,556.5L110,598M345,325.5L537,325.5M341,374.5L537,374.5M333,441L537,416M355,450.5L537,450.5M436,487L537,487M390,524L537,524M407,559.5L537,559.5M404,565.5L536,594M299.5,589L299.5,644M229,604L229,686M350,576L405.5,686M524,70L634,70.5M524,108L606,108M541,201L582,201M582,201L592,180M610,228L631,194M625.5,251.5L646,210M672,48L744,48M660,102.3L744,102.3M649,116.6L744,144.4M674,185.3L744,185.3" stroke="#000" stroke-width="1.3" fill="none"/><g font-family="Liberation Sans, sans-serif" font-size="13.6" fill="#000"><text x="0.19999999999999996" y="388.4" text-anchor="start">Superior vena cava</text><text x="0.19999999999999996" y="423.4" text-anchor="start">Right lung</text><text x="0.19999999999999996" y="456.9" text-anchor="start">Right auricle</text><text x="0.19999999999999996" y="491.4" text-anchor="start">Right atrium</text><text x="0.19999999999999996" y="525.4" text-anchor="start">Right ventricle</text><text x="0.19999999999999996" y="559.9" text-anchor="start">Ribs (cut)</text><text x="542.2" y="329.4" text-anchor="start">Mediastinum</text><text x="542.2" y="378.4" text-anchor="start">Arch of aorta</text><text x="542.2" y="419.9" text-anchor="start">Pulmonary trunk</text><text x="542.2" y="454.4" text-anchor="start">Left auricle</text><text x="542.2" y="490.9" text-anchor="start">Left lung</text><text x="542.2" y="527.9" text-anchor="start">Left ventricle</text><text x="542.2" y="563.4" text-anchor="start">Pericardial cavity</text><text x="542.2" y="597.9" text-anchor="start">Apex of heart</text><text x="264.7" y="660.9" text-anchor="start">Diaphragm</text><text x="180.2" y="702.4" text-anchor="start">Edge of parietal</text><text x="180.2" y="718.9" text-anchor="start">pleura (cut)</text><text x="355.2" y="702.4" text-anchor="start">Edge of parietal</text><text x="355.2" y="718.9" text-anchor="start">pericardium (cut)</text><text x="470.2" y="73.4" text-anchor="start">Trachea</text><text x="470.2" y="111.9" text-anchor="start">Thymus</text><text x="470.2" y="205.4" text-anchor="start">Diaphragm</text><text x="497.2" y="233.9" text-anchor="start">Inferior vena cava</text><text x="552.2" y="257.4" text-anchor="start">Esophagus</text><text x="747.2" y="51.9" text-anchor="start">1st rib</text><text x="747.2" y="106.2" text-anchor="start">Aortic</text><text x="747.2" y="121.4" text-anchor="start">arch</text><text x="747.2" y="148.3" text-anchor="start">Base</text><text x="747.2" y="190.4" text-anchor="start">Thoracic</text><text x="747.2" y="205.9" text-anchor="start">aorta</text><text x="597.7" y="287.9" text-anchor="start" font-weight="bold">Sagittal view</text></g><path d="M582.8,32.4 C584.0,32.2 587.2,31.7 590.3,31.0 C593.4,30.3 597.2,29.4 601.4,28.3 C605.5,27.2 610.6,25.8 615.2,24.1 C619.8,22.4 624.9,20.3 629.0,17.9 C633.1,15.5 636.8,12.7 640.0,9.7 C643.2,6.7 646.9,1.6 648.3,0.0" fill="none" stroke="#111" stroke-width="1.1" /><path d="M621.0,22.0 C622.7,21.1 627.8,18.6 631.0,16.5 C634.2,14.4 637.5,11.9 640.0,9.5 C642.5,7.1 645.0,3.2 646.0,2.0" fill="none" stroke="#111" stroke-width="2.2" /><path d="M582.8,32.4 C583.4,32.8 584.2,34.1 586.2,34.5 C588.2,34.9 591.7,34.4 594.5,34.5 C597.3,34.6 601.1,34.3 602.8,35.2 C604.5,36.1 604.5,37.8 604.8,40.0 C605.1,42.2 604.7,45.8 604.8,48.3 C604.9,50.8 604.7,53.1 605.5,55.2 C606.3,57.3 608.6,59.1 609.7,60.7 C610.9,62.3 612.2,63.6 612.4,64.8 C612.6,65.9 611.9,66.7 611.0,67.6 C610.1,68.5 608.2,69.1 606.9,70.3 C605.6,71.5 604.6,72.7 603.0,75.0 C601.4,77.3 598.9,81.2 597.0,84.0 C595.1,86.8 593.6,88.6 591.4,91.6 C589.2,94.6 586.2,98.5 584.0,102.0 C581.8,105.5 580.1,109.1 577.9,112.9 C575.7,116.7 572.9,120.8 571.0,125.0 C569.1,129.2 567.8,133.8 566.3,138.0 C564.8,142.2 563.3,145.8 562.0,150.0 C560.7,154.2 559.4,158.7 558.5,163.0 C557.6,167.3 557.0,171.8 556.5,176.0 C556.0,180.2 555.9,182.9 555.6,188.2 C555.3,193.4 554.8,203.5 554.7,207.5 C554.6,211.5 555.0,211.2 555.0,212.0" fill="none" stroke="#111" stroke-width="1.2" /><path d="M676.0,4.0 C676.2,4.8 676.5,6.7 677.0,9.0 C677.5,11.3 677.5,14.6 679.0,18.0 C680.5,21.4 683.3,25.6 686.0,29.3 C688.7,33.0 691.7,36.4 695.0,40.5 C698.3,44.6 702.2,48.8 706.0,54.0 C709.8,59.2 714.5,66.0 717.5,72.0 C720.5,78.0 722.1,83.2 724.0,90.0 C725.9,96.8 727.6,105.0 728.8,112.5 C730.0,120.0 730.6,128.8 731.0,135.0 C731.4,141.2 731.2,143.3 731.0,150.0 C730.8,156.7 730.0,167.0 729.5,175.0 C729.0,183.0 729.2,186.2 727.8,198.0 C726.4,209.8 723.7,233.5 721.0,246.0 C718.3,258.5 713.0,268.5 711.4,273.0" fill="none" stroke="#111" stroke-width="1.4" /><path d="M609.7,74.5 C608.9,75.8 606.8,79.4 605.0,82.0 C603.2,84.6 601.0,87.4 599.0,90.0 C597.0,92.6 595.3,94.4 593.3,97.4 C591.3,100.4 588.9,104.5 587.0,108.0 C585.1,111.5 583.7,114.8 581.7,118.6 C579.7,122.4 577.0,126.8 575.0,131.0 C573.0,135.2 571.6,139.6 570.0,143.8 C568.4,148.0 566.8,151.8 565.5,156.0 C564.2,160.2 563.2,164.9 562.4,168.9 C561.6,172.9 561.0,176.2 560.5,180.0 C560.0,183.8 559.8,187.1 559.5,192.0 C559.2,196.9 558.6,206.0 558.5,209.5 C558.4,213.0 558.9,212.4 559.0,213.0" fill="none" stroke="#111" stroke-width="1.0" /><path d="M603.0,92.0 C602.2,93.0 599.3,96.5 598.0,98.0 C596.7,99.5 596.6,99.5 595.2,101.3 C593.8,103.1 590.9,105.5 589.4,109.0 C587.9,112.5 587.0,117.5 586.0,122.0 C585.0,126.5 585.3,131.7 583.6,136.0 C581.9,140.3 577.9,142.8 576.0,147.6 C574.1,152.4 573.3,158.9 572.0,165.0 C570.7,171.1 569.5,178.5 568.2,184.3 C566.9,190.1 564.8,195.6 564.3,199.8 C563.8,204.0 564.8,207.5 565.3,209.5 C565.8,211.5 566.7,211.6 567.0,212.0" fill="none" stroke="#111" stroke-width="1.0" /><path d="M607.0,89.0 C606.7,89.4 606.3,88.9 605.0,91.6 C603.7,94.3 601.3,100.5 599.0,105.0 C596.7,109.5 593.6,113.8 591.4,118.6 C589.2,123.4 587.2,128.8 585.6,134.0 C584.0,139.2 583.3,144.1 581.7,149.6 C580.1,155.1 577.3,161.2 576.0,167.0 C574.7,172.8 575.0,180.1 574.0,184.3 C573.0,188.5 571.0,187.8 570.0,192.0 C569.0,196.2 568.7,206.2 568.2,209.5 C567.7,212.8 567.2,211.6 567.0,212.0" fill="none" stroke="#111" stroke-width="1.0" /><path d="M608.8,87.7 C611.0,85.0 612.4,88.0 614.0,89.0 C615.6,90.0 618.0,90.8 618.4,93.5 C618.8,96.2 618.1,101.1 616.5,105.0 C614.9,108.9 612.0,113.1 608.8,116.7 C605.6,120.3 600.0,124.8 597.2,126.4 C594.5,128.0 592.9,128.0 592.3,126.4 C591.6,124.8 591.8,120.3 593.3,116.7 C594.8,113.1 598.4,109.8 601.0,105.0 C603.6,100.2 606.6,90.4 608.8,87.7Z" fill="none" stroke="#111" stroke-width="1.0" /><path d="M620.0,103.0 C618.3,104.3 612.8,107.8 610.0,111.0 C607.2,114.2 605.2,119.3 603.0,122.5 C600.8,125.7 598.6,127.4 597.0,130.0 C595.4,132.6 594.2,134.1 593.3,138.0 C592.4,141.9 591.6,148.9 591.4,153.4 C591.2,157.9 591.0,162.1 592.3,165.0 C593.6,167.9 595.6,169.7 599.0,170.8 C602.4,171.9 608.3,171.6 612.6,171.8 C616.9,172.0 620.4,171.6 625.0,171.8 C629.6,172.0 636.2,173.3 640.0,173.0 C643.8,172.7 645.8,172.2 648.0,170.0 C650.2,167.8 652.1,165.0 653.0,160.0 C653.9,155.0 653.7,147.1 653.5,140.0 C653.3,132.9 652.2,121.1 652.0,117.3" fill="none" stroke="#111" stroke-width="1.3" /><path d="M622.4,97.4 C621.8,99.2 619.4,103.9 619.0,108.0 C618.6,112.1 619.2,118.2 620.0,122.0 C620.8,125.8 622.3,128.5 624.0,131.0 C625.7,133.5 627.5,135.3 630.0,137.0 C632.5,138.7 636.1,140.3 639.0,141.0 C641.9,141.7 645.1,142.2 647.3,141.0 C649.5,139.8 651.2,135.2 652.0,134.0" fill="none" stroke="#111" stroke-width="1.4" stroke-dasharray="3 2.2"/><circle cx="639.8" cy="105" r="4.8" fill="#fff" stroke="#111" stroke-width="1"/><circle cx="639.8" cy="105" r="3.1999999999999997" fill="none" stroke="#111" stroke-width="0.7"/><circle cx="638.6" cy="121" r="3.8" fill="#fff" stroke="#111" stroke-width="1"/><circle cx="638.6" cy="121" r="2.1999999999999997" fill="none" stroke="#111" stroke-width="0.7"/><circle cx="642.3" cy="131" r="3.8" fill="#fff" stroke="#111" stroke-width="1"/><circle cx="642.3" cy="131" r="2.1999999999999997" fill="none" stroke="#111" stroke-width="0.7"/><path d="M620.0,105.0 C620.8,103.3 622.5,97.5 625.0,95.0 C627.5,92.5 631.1,91.0 634.8,90.0 C638.5,89.0 643.1,87.9 647.3,88.7 C651.4,89.5 656.4,91.9 659.7,95.0 C663.0,98.1 665.1,100.8 667.0,107.4 C668.9,114.0 670.2,121.9 671.0,134.7 C671.8,147.5 671.6,167.8 672.0,184.4 C672.4,201.0 673.0,223.6 673.4,234.0 C673.8,244.4 674.4,244.8 674.6,247.0" fill="none" stroke="#111" stroke-width="1.3" /><path d="M627.4,110.0 C628.2,108.7 629.9,104.3 632.4,102.4 C634.9,100.5 638.6,98.9 642.3,98.7 C646.0,98.5 651.4,98.7 654.7,101.0 C658.0,103.3 660.5,106.7 662.2,112.3 C663.9,117.9 664.1,122.7 664.7,134.7 C665.3,146.7 665.5,167.8 666.0,184.4 C666.5,201.0 667.3,223.6 667.6,234.0 C667.9,244.4 667.9,244.8 668.0,247.0" fill="none" stroke="#111" stroke-width="1.2" /><path d="M643.0,34.0 C643.3,38.3 644.2,51.0 645.0,60.0 C645.8,69.0 647.0,79.7 648.0,88.0 C649.0,96.3 650.2,99.7 651.0,110.0 C651.8,120.3 652.2,136.7 652.5,150.0 C652.8,163.3 652.8,173.7 653.0,190.0 C653.2,206.3 653.8,238.3 654.0,248.0" fill="none" stroke="#111" stroke-width="1.0" /><path d="M651.5,34.0 C651.8,38.3 652.2,51.0 653.0,60.0 C653.8,69.0 655.0,79.7 656.0,88.0 C657.0,96.3 658.3,99.7 659.0,110.0 C659.7,120.3 659.7,136.7 660.0,150.0 C660.3,163.3 660.5,173.3 661.0,190.0 C661.5,206.7 662.7,240.0 663.0,250.0" fill="none" stroke="#111" stroke-width="1.0" /><ellipse cx="647.2" cy="34" rx="4.4" ry="2.2" fill="#fff" stroke="#111" stroke-width="1"/><ellipse cx="658.5" cy="251" rx="5" ry="3.2" transform="rotate(25 658.5 251)" fill="#fff" stroke="#111" stroke-width="1.1"/><rect x="623.0" y="36.0" width="15" height="5.6" rx="2" fill="#fff" stroke="#111" stroke-width="0.9" transform="rotate(-8 630.5 38.8)"/><rect x="624.6" y="42.6" width="15" height="5.6" rx="2" fill="#fff" stroke="#111" stroke-width="0.9" transform="rotate(-8 632.1 45.4)"/><rect x="626.2" y="49.2" width="15" height="5.6" rx="2" fill="#fff" stroke="#111" stroke-width="0.9" transform="rotate(-8 633.7 52.0)"/><rect x="627.8" y="55.8" width="15" height="5.6" rx="2" fill="#fff" stroke="#111" stroke-width="0.9" transform="rotate(-8 635.3 58.6)"/><rect x="629.4" y="62.4" width="15" height="5.6" rx="2" fill="#fff" stroke="#111" stroke-width="0.9" transform="rotate(-8 636.9 65.2)"/><rect x="631.0" y="69.0" width="15" height="5.6" rx="2" fill="#fff" stroke="#111" stroke-width="0.9" transform="rotate(-8 638.5 71.8)"/><rect x="632.6" y="75.6" width="15" height="5.6" rx="2" fill="#fff" stroke="#111" stroke-width="0.9" transform="rotate(-8 640.1 78.4)"/><path d="M618.0,78.0 C620.0,76.3 626.0,71.2 630.0,68.0 C634.0,64.8 638.2,61.7 642.0,58.5 C645.8,55.3 651.2,50.6 653.0,49.0" fill="none" stroke="#111" stroke-width="1.0" /><path d="M574.0,192.0 C575.2,190.4 578.0,185.1 581.5,182.5 C585.0,179.9 589.8,177.7 595.0,176.5 C600.2,175.3 607.6,175.7 612.6,175.5 C617.6,175.3 620.5,175.1 625.0,175.5 C629.5,175.9 635.5,176.7 639.8,178.2 C644.1,179.7 647.5,181.4 651.0,184.5 C654.5,187.6 658.4,191.5 661.0,196.8 C663.6,202.2 665.2,209.9 666.5,216.6 C667.8,223.3 668.6,230.8 669.0,237.0 C669.4,243.2 669.0,251.2 669.0,254.0" fill="none" stroke="#111" stroke-width="7.2" stroke-linecap="round"/><path d="M574.0,192.0 C575.2,190.4 578.0,185.1 581.5,182.5 C585.0,179.9 589.8,177.7 595.0,176.5 C600.2,175.3 607.6,175.7 612.6,175.5 C617.6,175.3 620.5,175.1 625.0,175.5 C629.5,175.9 635.5,176.7 639.8,178.2 C644.1,179.7 647.5,181.4 651.0,184.5 C654.5,187.6 658.4,191.5 661.0,196.8 C663.6,202.2 665.2,209.9 666.5,216.6 C667.8,223.3 668.6,230.8 669.0,237.0 C669.4,243.2 669.0,251.2 669.0,254.0" fill="none" stroke="#fff" stroke-width="4.6" stroke-linecap="round"/><path d="M572.0,190.0 C573.3,188.4 576.2,183.1 579.8,180.5 C583.3,177.9 587.8,175.5 593.3,174.2 C598.8,172.9 607.3,172.8 612.6,172.5 C617.9,172.2 620.5,172.1 625.0,172.5 C629.5,172.9 635.2,173.7 639.8,175.2 C644.4,176.7 648.6,178.3 652.5,181.5 C656.4,184.7 660.4,188.9 663.2,194.3 C666.0,199.8 668.0,207.6 669.4,214.2 C670.8,220.8 671.5,230.7 671.9,234.0" fill="none" stroke="#111" stroke-width="1.4" /><path d="M626.0,190.5 L635.5,174.5 M637.0,193.5 L646.5,177.5" stroke="#111" stroke-width="1.1"/><ellipse cx="631.5" cy="192" rx="6" ry="3.8" transform="rotate(25 631.5 192)" fill="#fff" stroke="#111" stroke-width="1.1"/><ellipse cx="631.5" cy="192" rx="2.8" ry="1.7" transform="rotate(25 631.5 192)" fill="none" stroke="#111" stroke-width="0.8"/><path d="M640.5,207.0 L650.5,188.5 M651.5,210.0 L661.5,191.5" stroke="#111" stroke-width="1.1"/><ellipse cx="646" cy="208.5" rx="6" ry="3.8" transform="rotate(25 646 208.5)" fill="#fff" stroke="#111" stroke-width="1.1"/><ellipse cx="646" cy="208.5" rx="2.8" ry="1.7" transform="rotate(25 646 208.5)" fill="none" stroke="#111" stroke-width="0.8"/><path d="M656.6,46.5 C658.2,50.6 663.5,62.6 666.5,71.4 C669.5,80.2 672.9,92.2 674.8,99.5 C676.7,106.8 677.1,109.1 678.0,115.0 C678.9,120.9 679.6,127.5 680.0,135.0 C680.4,142.5 680.7,149.2 680.5,160.0 C680.3,170.8 679.8,188.3 679.0,200.0 C678.2,211.7 677.0,220.3 676.0,230.0 C675.0,239.7 673.5,253.3 673.0,258.0" fill="none" stroke="#111" stroke-width="1.0" /><path d="M652.0,50.0 C653.3,53.6 657.3,63.2 660.0,71.4 C662.7,79.7 666.2,92.2 668.2,99.5 C670.2,106.8 671.0,109.1 672.0,115.0 C673.0,120.9 673.6,127.5 674.0,135.0 C674.4,142.5 674.7,149.2 674.5,160.0 C674.3,170.8 673.6,188.3 673.0,200.0 C672.4,211.7 671.7,220.3 671.0,230.0 C670.3,239.7 669.3,253.3 669.0,258.0" fill="none" stroke="#111" stroke-width="1.0" /><rect x="666.5" y="68.8" width="19" height="14.5" rx="2.5" fill="#fff" stroke="#111" stroke-width="1.1" transform="rotate(-14 676 76)"/><path d="M668.3,81.2 L668.3,70.8 L682.5,70.8" fill="none" stroke="#111" stroke-width="0.6" transform="rotate(-14 676 76)"/><rect x="673.3" y="84.8" width="20" height="15.5" rx="2.5" fill="#fff" stroke="#111" stroke-width="1.1" transform="rotate(-12 683.3 92.5)"/><path d="M675.1,98.2 L675.1,86.8 L690.3,86.8" fill="none" stroke="#111" stroke-width="0.6" transform="rotate(-12 683.3 92.5)"/><rect x="678.1" y="104.5" width="20.5" height="15.5" rx="2.5" fill="#fff" stroke="#111" stroke-width="1.1" transform="rotate(-10 688.4 112.2)"/><path d="M679.9,118.0 L679.9,106.5 L695.6,106.5" fill="none" stroke="#111" stroke-width="0.6" transform="rotate(-10 688.4 112.2)"/><rect x="683.0" y="121.8" width="20" height="15.5" rx="2.5" fill="#fff" stroke="#111" stroke-width="1.1" transform="rotate(-8 693 129.6)"/><path d="M684.8,135.3 L684.8,123.8 L700.0,123.8" fill="none" stroke="#111" stroke-width="0.6" transform="rotate(-8 693 129.6)"/><rect x="685.2" y="142.8" width="19.5" height="15.5" rx="2.5" fill="#fff" stroke="#111" stroke-width="1.1" transform="rotate(-3 695 150.6)"/><path d="M687.0,156.3 L687.0,144.8 L701.8,144.8" fill="none" stroke="#111" stroke-width="0.6" transform="rotate(-3 695 150.6)"/><rect x="684.2" y="163.9" width="20.5" height="14.8" rx="2.5" fill="#fff" stroke="#111" stroke-width="1.1" transform="rotate(0 694.5 171.3)"/><path d="M686.0,176.7 L686.0,165.9 L701.8,165.9" fill="none" stroke="#111" stroke-width="0.6" transform="rotate(0 694.5 171.3)"/><rect x="682.5" y="182.4" width="21" height="15.5" rx="2.5" fill="#fff" stroke="#111" stroke-width="1.1" transform="rotate(3 693 190.2)"/><path d="M684.3,195.9 L684.3,184.4 L700.5,184.4" fill="none" stroke="#111" stroke-width="0.6" transform="rotate(3 693 190.2)"/><rect x="679.7" y="202.2" width="22" height="16.5" rx="2.5" fill="#fff" stroke="#111" stroke-width="1.1" transform="rotate(6 690.7 210.4)"/><path d="M681.5,216.7 L681.5,204.2 L698.7,204.2" fill="none" stroke="#111" stroke-width="0.6" transform="rotate(6 690.7 210.4)"/><rect x="675.8" y="221.9" width="23" height="16.5" rx="2.5" fill="#fff" stroke="#111" stroke-width="1.1" transform="rotate(8 687.3 230.2)"/><path d="M677.6,236.4 L677.6,223.9 L695.8,223.9" fill="none" stroke="#111" stroke-width="0.6" transform="rotate(8 687.3 230.2)"/><rect x="672.9" y="239.8" width="23" height="17.5" rx="2.5" fill="#fff" stroke="#111" stroke-width="1.1" transform="rotate(10 684.4 248.6)"/><path d="M674.7,255.4 L674.7,241.8 L692.9,241.8" fill="none" stroke="#111" stroke-width="0.6" transform="rotate(10 684.4 248.6)"/><ellipse cx="682.8" cy="44" rx="3" ry="2.2" transform="rotate(0 682.8 44)" fill="#fff" stroke="#111" stroke-width="1"/><ellipse cx="688.7" cy="58.5" rx="2.8" ry="9" transform="rotate(-45 688.7 58.5)" fill="#fff" stroke="#111" stroke-width="1"/><ellipse cx="698" cy="74.5" rx="3" ry="9" transform="rotate(-45 698 74.5)" fill="#fff" stroke="#111" stroke-width="1"/><ellipse cx="705" cy="95" rx="3" ry="8.5" transform="rotate(-35 705 95)" fill="#fff" stroke="#111" stroke-width="1"/><ellipse cx="707" cy="113.6" rx="3" ry="8.5" transform="rotate(-28 707 113.6)" fill="#fff" stroke="#111" stroke-width="1"/><ellipse cx="711" cy="135" rx="3" ry="8.5" transform="rotate(-20 711 135)" fill="#fff" stroke="#111" stroke-width="1"/><ellipse cx="713.8" cy="155.7" rx="3.4" ry="9.5" transform="rotate(-10 713.8 155.7)" fill="#fff" stroke="#111" stroke-width="1"/><ellipse cx="713.8" cy="179.4" rx="3.4" ry="9.5" transform="rotate(-8 713.8 179.4)" fill="#fff" stroke="#111" stroke-width="1"/><ellipse cx="710.8" cy="202.5" rx="3.4" ry="9.5" transform="rotate(-5 710.8 202.5)" fill="#fff" stroke="#111" stroke-width="1"/><ellipse cx="707.8" cy="221.7" rx="3.4" ry="9.5" transform="rotate(0 707.8 221.7)" fill="#fff" stroke="#111" stroke-width="1"/><ellipse cx="704.8" cy="242" rx="3.4" ry="9.5" transform="rotate(5 704.8 242)" fill="#fff" stroke="#111" stroke-width="1"/><ellipse cx="701.8" cy="260.2" rx="3.4" ry="9" transform="rotate(10 701.8 260.2)" fill="#fff" stroke="#111" stroke-width="1"/><path d="M615.0,80.5 C616.8,80.9 622.1,82.8 626.0,82.7 C629.9,82.6 634.5,81.5 638.5,80.0 C642.5,78.5 646.3,76.4 650.0,74.0 C653.7,71.6 657.6,68.4 660.5,65.5 C663.4,62.6 665.6,59.5 667.5,56.5 C669.4,53.5 671.2,49.9 672.0,47.5 C672.8,45.1 672.0,42.9 672.0,42.0" fill="none" stroke="#111" stroke-width="6.2" stroke-linecap="round"/><path d="M615.0,80.5 C616.8,80.9 622.1,82.8 626.0,82.7 C629.9,82.6 634.5,81.5 638.5,80.0 C642.5,78.5 646.3,76.4 650.0,74.0 C653.7,71.6 657.6,68.4 660.5,65.5 C663.4,62.6 665.6,59.5 667.5,56.5 C669.4,53.5 671.2,49.9 672.0,47.5 C672.8,45.1 672.0,42.9 672.0,42.0" fill="none" stroke="#fff" stroke-width="4" stroke-linecap="round"/><path d="M654.0,37.0 C654.7,35.7 657.8,34.0 660.0,34.0 C662.2,34.0 664.8,36.7 667.0,37.0 C669.2,37.3 671.0,35.7 673.0,36.0 C675.0,36.3 678.3,37.7 679.0,39.0 C679.7,40.3 678.3,43.0 677.0,44.0 C675.7,45.0 672.8,44.2 671.0,45.0 C669.2,45.8 667.8,48.7 666.0,49.0 C664.2,49.3 661.7,48.2 660.0,47.0 C658.3,45.8 657.0,43.7 656.0,42.0 C655.0,40.3 653.3,38.3 654.0,37.0Z" fill="#fff" stroke="#111" stroke-width="1.0" />
</svg></body></html>
